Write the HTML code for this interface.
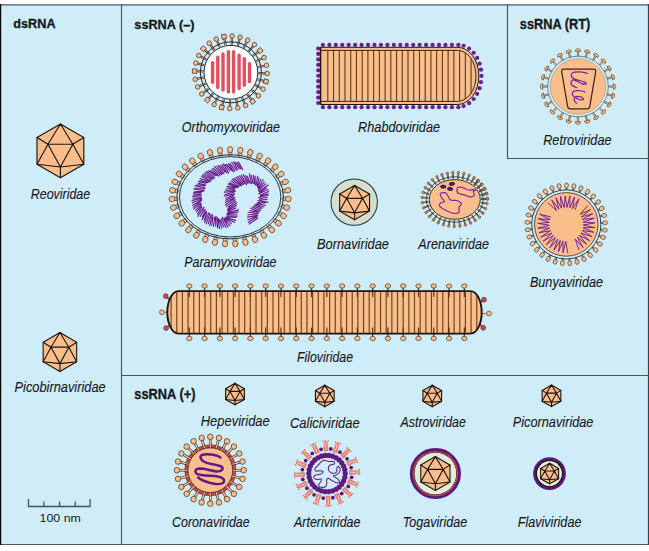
<!DOCTYPE html>
<html><head><meta charset="utf-8"><style>
html,body{margin:0;padding:0;background:#fff;}
svg{display:block;}
text{font-family:"Liberation Sans",sans-serif;fill:#15181b;stroke:#15181b;stroke-width:0.1px;}
</style></head><body>
<svg width="649" height="551" viewBox="0 0 649 551">
<rect x="0" y="4" width="649" height="541" fill="#cfecf9"/>
<rect x="0" y="4" width="649" height="1" fill="#7d8183"/>
<rect x="0" y="5" width="649" height="1" fill="#8aa3ae"/>
<rect x="0" y="544" width="649" height="1" fill="#4c5c66"/>
<rect x="0" y="4" width="1.2" height="541" fill="#000"/>
<rect x="647.9" y="4" width="1.1" height="541" fill="#36424a"/>
<path d="M121.5,4.5 V544.5 M121.5,375.5 H648.5 M507.5,4.5 V158.5 H648.5" fill="none" stroke="#46555e" stroke-width="1.15"/>
<path d="M60.4,124 L83.8,137.42 L83.8,164.28 L60.4,177.7 L37,164.28 L37,137.42 Z" fill="#fabe8c" stroke="#1c1410" stroke-width="1.15" stroke-linejoin="round"/><path d="M60.4,124 L47.95,144.24 M60.4,124 L72.85,144.24 M47.95,144.24 L72.85,144.24 M37,137.42 L47.95,144.24 M37,164.28 L47.95,144.24 M83.8,137.42 L72.85,144.24 M83.8,164.28 L72.85,144.24 M47.95,144.24 L60.4,166.96 M72.85,144.24 L60.4,166.96 M37,164.28 L60.4,166.96 M83.8,164.28 L60.4,166.96 M60.4,177.7 L60.4,166.96" fill="none" stroke="#1c1410" stroke-width="1.15" stroke-linecap="round"/>
<path d="M59.9,332.5 L76.65,342.22 L76.65,361.68 L59.9,371.4 L43.15,361.68 L43.15,342.22 Z" fill="#fabe8c" stroke="#1c1410" stroke-width="1.1" stroke-linejoin="round"/><path d="M59.9,332.5 L50.99,347.17 M59.9,332.5 L68.81,347.17 M50.99,347.17 L68.81,347.17 M43.15,342.22 L50.99,347.17 M43.15,361.68 L50.99,347.17 M76.65,342.22 L68.81,347.17 M76.65,361.68 L68.81,347.17 M50.99,347.17 L59.9,363.62 M68.81,347.17 L59.9,363.62 M43.15,361.68 L59.9,363.62 M76.65,361.68 L59.9,363.62 M59.9,371.4 L59.9,363.62" fill="none" stroke="#1c1410" stroke-width="1.1" stroke-linecap="round"/>
<line x1="231.76" y1="44.81" x2="231.97" y2="38.12" stroke="#3a2a20" stroke-width="2.1" stroke-linecap="butt"/><line x1="231.76" y1="44.81" x2="231.97" y2="38.12" stroke="#eaa070" stroke-width="1" stroke-linecap="butt"/><circle cx="232.04" cy="36.02" r="2.3" fill="#fabe8c" stroke="#3a2a20" stroke-width="0.7" /><line x1="237.86" y1="45.7" x2="239.56" y2="39.21" stroke="#3a2a20" stroke-width="2.1" stroke-linecap="butt"/><line x1="237.86" y1="45.7" x2="239.56" y2="39.21" stroke="#eaa070" stroke-width="1" stroke-linecap="butt"/><circle cx="240.09" cy="37.18" r="2.3" fill="#fabe8c" stroke="#3a2a20" stroke-width="0.7" /><line x1="243.61" y1="47.91" x2="246.7" y2="41.97" stroke="#3a2a20" stroke-width="2.1" stroke-linecap="butt"/><line x1="243.61" y1="47.91" x2="246.7" y2="41.97" stroke="#eaa070" stroke-width="1" stroke-linecap="butt"/><circle cx="247.67" cy="40.11" r="2.3" fill="#fabe8c" stroke="#3a2a20" stroke-width="0.7" /><line x1="248.72" y1="51.35" x2="253.06" y2="46.25" stroke="#3a2a20" stroke-width="2.1" stroke-linecap="butt"/><line x1="248.72" y1="51.35" x2="253.06" y2="46.25" stroke="#eaa070" stroke-width="1" stroke-linecap="butt"/><circle cx="254.42" cy="44.65" r="2.3" fill="#fabe8c" stroke="#3a2a20" stroke-width="0.7" /><line x1="252.93" y1="55.84" x2="258.3" y2="51.83" stroke="#3a2a20" stroke-width="2.1" stroke-linecap="butt"/><line x1="252.93" y1="55.84" x2="258.3" y2="51.83" stroke="#eaa070" stroke-width="1" stroke-linecap="butt"/><rect x="257.78" y="48.38" width="4.4" height="4.4" fill="#fabe8c" stroke="#3a2a20" stroke-width="0.7" transform="rotate(53.24 259.98 50.58)"/><line x1="256.04" y1="61.16" x2="262.17" y2="58.44" stroke="#3a2a20" stroke-width="2.1" stroke-linecap="butt"/><line x1="256.04" y1="61.16" x2="262.17" y2="58.44" stroke="#eaa070" stroke-width="1" stroke-linecap="butt"/><circle cx="264.09" cy="57.59" r="2.3" fill="#fabe8c" stroke="#3a2a20" stroke-width="0.7" /><line x1="257.89" y1="67.03" x2="264.47" y2="65.75" stroke="#3a2a20" stroke-width="2.1" stroke-linecap="butt"/><line x1="257.89" y1="67.03" x2="264.47" y2="65.75" stroke="#eaa070" stroke-width="1" stroke-linecap="butt"/><circle cx="266.53" cy="65.35" r="2.3" fill="#fabe8c" stroke="#3a2a20" stroke-width="0.7" /><line x1="258.39" y1="73.17" x2="265.08" y2="73.39" stroke="#3a2a20" stroke-width="2.1" stroke-linecap="butt"/><line x1="258.39" y1="73.17" x2="265.08" y2="73.39" stroke="#eaa070" stroke-width="1" stroke-linecap="butt"/><circle cx="267.18" cy="73.45" r="2.3" fill="#fabe8c" stroke="#3a2a20" stroke-width="0.7" /><line x1="257.5" y1="79.27" x2="263.98" y2="80.97" stroke="#3a2a20" stroke-width="2.1" stroke-linecap="butt"/><line x1="257.5" y1="79.27" x2="263.98" y2="80.97" stroke="#eaa070" stroke-width="1" stroke-linecap="butt"/><rect x="263.82" y="79.3" width="4.4" height="4.4" fill="#fabe8c" stroke="#3a2a20" stroke-width="0.7" transform="rotate(104.68 266.02 81.5)"/><line x1="255.28" y1="85.02" x2="261.22" y2="88.11" stroke="#3a2a20" stroke-width="2.1" stroke-linecap="butt"/><line x1="255.28" y1="85.02" x2="261.22" y2="88.11" stroke="#eaa070" stroke-width="1" stroke-linecap="butt"/><circle cx="263.09" cy="89.08" r="2.3" fill="#fabe8c" stroke="#3a2a20" stroke-width="0.7" /><line x1="251.84" y1="90.12" x2="256.94" y2="94.47" stroke="#3a2a20" stroke-width="2.1" stroke-linecap="butt"/><line x1="251.84" y1="90.12" x2="256.94" y2="94.47" stroke="#eaa070" stroke-width="1" stroke-linecap="butt"/><circle cx="258.54" cy="95.83" r="2.3" fill="#fabe8c" stroke="#3a2a20" stroke-width="0.7" /><line x1="247.35" y1="94.34" x2="251.36" y2="99.71" stroke="#3a2a20" stroke-width="2.1" stroke-linecap="butt"/><line x1="247.35" y1="94.34" x2="251.36" y2="99.71" stroke="#eaa070" stroke-width="1" stroke-linecap="butt"/><rect x="250.41" y="99.19" width="4.4" height="4.4" fill="#fabe8c" stroke="#3a2a20" stroke-width="0.7" transform="rotate(143.26 252.61 101.39)"/><line x1="242.03" y1="97.45" x2="244.74" y2="103.57" stroke="#3a2a20" stroke-width="2.1" stroke-linecap="butt"/><line x1="242.03" y1="97.45" x2="244.74" y2="103.57" stroke="#eaa070" stroke-width="1" stroke-linecap="butt"/><circle cx="245.6" cy="105.49" r="2.3" fill="#fabe8c" stroke="#3a2a20" stroke-width="0.7" /><line x1="236.16" y1="99.29" x2="237.44" y2="105.87" stroke="#3a2a20" stroke-width="2.1" stroke-linecap="butt"/><line x1="236.16" y1="99.29" x2="237.44" y2="105.87" stroke="#eaa070" stroke-width="1" stroke-linecap="butt"/><circle cx="237.84" cy="107.93" r="2.3" fill="#fabe8c" stroke="#3a2a20" stroke-width="0.7" /><line x1="230.02" y1="99.79" x2="229.8" y2="106.48" stroke="#3a2a20" stroke-width="2.1" stroke-linecap="butt"/><line x1="230.02" y1="99.79" x2="229.8" y2="106.48" stroke="#eaa070" stroke-width="1" stroke-linecap="butt"/><circle cx="229.73" cy="108.58" r="2.3" fill="#fabe8c" stroke="#3a2a20" stroke-width="0.7" /><line x1="223.92" y1="98.9" x2="222.22" y2="105.38" stroke="#3a2a20" stroke-width="2.1" stroke-linecap="butt"/><line x1="223.92" y1="98.9" x2="222.22" y2="105.38" stroke="#eaa070" stroke-width="1" stroke-linecap="butt"/><rect x="219.49" y="105.21" width="4.4" height="4.4" fill="#fabe8c" stroke="#3a2a20" stroke-width="0.7" transform="rotate(194.7 221.69 107.41)"/><line x1="218.18" y1="96.68" x2="215.08" y2="102.62" stroke="#3a2a20" stroke-width="2.1" stroke-linecap="butt"/><line x1="218.18" y1="96.68" x2="215.08" y2="102.62" stroke="#eaa070" stroke-width="1" stroke-linecap="butt"/><circle cx="214.1" cy="104.48" r="2.3" fill="#fabe8c" stroke="#3a2a20" stroke-width="0.7" /><line x1="213.07" y1="93.24" x2="208.73" y2="98.34" stroke="#3a2a20" stroke-width="2.1" stroke-linecap="butt"/><line x1="213.07" y1="93.24" x2="208.73" y2="98.34" stroke="#eaa070" stroke-width="1" stroke-linecap="butt"/><rect x="205.16" y="97.74" width="4.4" height="4.4" fill="#fabe8c" stroke="#3a2a20" stroke-width="0.7" transform="rotate(220.42 207.36 99.94)"/><line x1="208.86" y1="88.74" x2="203.49" y2="92.75" stroke="#3a2a20" stroke-width="2.1" stroke-linecap="butt"/><line x1="208.86" y1="88.74" x2="203.49" y2="92.75" stroke="#eaa070" stroke-width="1" stroke-linecap="butt"/><circle cx="201.8" cy="94" r="2.3" fill="#fabe8c" stroke="#3a2a20" stroke-width="0.7" /><line x1="205.75" y1="83.42" x2="199.62" y2="86.13" stroke="#3a2a20" stroke-width="2.1" stroke-linecap="butt"/><line x1="205.75" y1="83.42" x2="199.62" y2="86.13" stroke="#eaa070" stroke-width="1" stroke-linecap="butt"/><circle cx="197.7" cy="86.98" r="2.3" fill="#fabe8c" stroke="#3a2a20" stroke-width="0.7" /><line x1="203.91" y1="77.55" x2="197.33" y2="78.83" stroke="#3a2a20" stroke-width="2.1" stroke-linecap="butt"/><line x1="203.91" y1="77.55" x2="197.33" y2="78.83" stroke="#eaa070" stroke-width="1" stroke-linecap="butt"/><circle cx="195.27" cy="79.23" r="2.3" fill="#fabe8c" stroke="#3a2a20" stroke-width="0.7" /><line x1="203.41" y1="71.41" x2="196.72" y2="71.19" stroke="#3a2a20" stroke-width="2.1" stroke-linecap="butt"/><line x1="203.41" y1="71.41" x2="196.72" y2="71.19" stroke="#eaa070" stroke-width="1" stroke-linecap="butt"/><rect x="192.42" y="68.92" width="4.4" height="4.4" fill="#fabe8c" stroke="#3a2a20" stroke-width="0.7" transform="rotate(271.86 194.62 71.12)"/><line x1="204.3" y1="65.31" x2="197.82" y2="63.61" stroke="#3a2a20" stroke-width="2.1" stroke-linecap="butt"/><line x1="204.3" y1="65.31" x2="197.82" y2="63.61" stroke="#eaa070" stroke-width="1" stroke-linecap="butt"/><circle cx="195.79" cy="63.08" r="2.3" fill="#fabe8c" stroke="#3a2a20" stroke-width="0.7" /><line x1="206.52" y1="59.57" x2="200.59" y2="56.47" stroke="#3a2a20" stroke-width="2.1" stroke-linecap="butt"/><line x1="206.52" y1="59.57" x2="200.59" y2="56.47" stroke="#eaa070" stroke-width="1" stroke-linecap="butt"/><circle cx="198.72" cy="55.49" r="2.3" fill="#fabe8c" stroke="#3a2a20" stroke-width="0.7" /><line x1="209.97" y1="54.46" x2="204.87" y2="50.12" stroke="#3a2a20" stroke-width="2.1" stroke-linecap="butt"/><line x1="209.97" y1="54.46" x2="204.87" y2="50.12" stroke="#eaa070" stroke-width="1" stroke-linecap="butt"/><rect x="201.07" y="46.55" width="4.4" height="4.4" fill="#fabe8c" stroke="#3a2a20" stroke-width="0.7" transform="rotate(310.44 203.27 48.75)"/><line x1="214.47" y1="50.25" x2="210.46" y2="44.88" stroke="#3a2a20" stroke-width="2.1" stroke-linecap="butt"/><line x1="214.47" y1="50.25" x2="210.46" y2="44.88" stroke="#eaa070" stroke-width="1" stroke-linecap="butt"/><circle cx="209.21" cy="43.2" r="2.3" fill="#fabe8c" stroke="#3a2a20" stroke-width="0.7" /><line x1="219.78" y1="47.15" x2="217.08" y2="41.02" stroke="#3a2a20" stroke-width="2.1" stroke-linecap="butt"/><line x1="219.78" y1="47.15" x2="217.08" y2="41.02" stroke="#eaa070" stroke-width="1" stroke-linecap="butt"/><circle cx="216.23" cy="39.1" r="2.3" fill="#fabe8c" stroke="#3a2a20" stroke-width="0.7" /><line x1="225.66" y1="45.3" x2="224.39" y2="38.73" stroke="#3a2a20" stroke-width="2.1" stroke-linecap="butt"/><line x1="225.66" y1="45.3" x2="224.39" y2="38.73" stroke="#eaa070" stroke-width="1" stroke-linecap="butt"/><rect x="221.79" y="34.46" width="4.4" height="4.4" fill="#fabe8c" stroke="#3a2a20" stroke-width="0.7" transform="rotate(349.02 223.99 36.66)"/><circle cx="230.9" cy="72.3" r="30.5" fill="none" stroke="#1f2d33" stroke-width="1" /><circle cx="230.9" cy="72.3" r="26.9" fill="#ffffff" stroke="#1f2d33" stroke-width="1" /><line x1="212.6" y1="62.6" x2="212.6" y2="82.2" stroke="#e0505f" stroke-width="3.4" stroke-linecap="round"/><line x1="217.8" y1="57.1" x2="217.8" y2="87.4" stroke="#e0505f" stroke-width="3.4" stroke-linecap="round"/><line x1="223" y1="53.9" x2="223" y2="90.1" stroke="#e0505f" stroke-width="3.4" stroke-linecap="round"/><line x1="228.4" y1="51.6" x2="228.4" y2="91.9" stroke="#e0505f" stroke-width="3.4" stroke-linecap="round"/><line x1="233.6" y1="51.6" x2="233.6" y2="91.9" stroke="#e0505f" stroke-width="3.4" stroke-linecap="round"/><line x1="239.1" y1="55.2" x2="239.1" y2="88.6" stroke="#e0505f" stroke-width="3.4" stroke-linecap="round"/><line x1="244.3" y1="58.6" x2="244.3" y2="85.2" stroke="#e0505f" stroke-width="3.4" stroke-linecap="round"/><line x1="249.5" y1="63.8" x2="249.5" y2="81.5" stroke="#e0505f" stroke-width="3.4" stroke-linecap="round"/>
<circle cx="322.9" cy="44.9" r="2.1" fill="#741a91" stroke="none" stroke-width="1" /><circle cx="322.9" cy="107.2" r="2.1" fill="#741a91" stroke="none" stroke-width="1" /><circle cx="329.35" cy="44.9" r="2.1" fill="#741a91" stroke="none" stroke-width="1" /><circle cx="329.35" cy="107.2" r="2.1" fill="#741a91" stroke="none" stroke-width="1" /><circle cx="335.8" cy="44.9" r="2.1" fill="#741a91" stroke="none" stroke-width="1" /><circle cx="335.8" cy="107.2" r="2.1" fill="#741a91" stroke="none" stroke-width="1" /><circle cx="342.25" cy="44.9" r="2.1" fill="#741a91" stroke="none" stroke-width="1" /><circle cx="342.25" cy="107.2" r="2.1" fill="#741a91" stroke="none" stroke-width="1" /><circle cx="348.7" cy="44.9" r="2.1" fill="#741a91" stroke="none" stroke-width="1" /><circle cx="348.7" cy="107.2" r="2.1" fill="#741a91" stroke="none" stroke-width="1" /><circle cx="355.15" cy="44.9" r="2.1" fill="#741a91" stroke="none" stroke-width="1" /><circle cx="355.15" cy="107.2" r="2.1" fill="#741a91" stroke="none" stroke-width="1" /><circle cx="361.6" cy="44.9" r="2.1" fill="#741a91" stroke="none" stroke-width="1" /><circle cx="361.6" cy="107.2" r="2.1" fill="#741a91" stroke="none" stroke-width="1" /><circle cx="368.05" cy="44.9" r="2.1" fill="#741a91" stroke="none" stroke-width="1" /><circle cx="368.05" cy="107.2" r="2.1" fill="#741a91" stroke="none" stroke-width="1" /><circle cx="374.5" cy="44.9" r="2.1" fill="#741a91" stroke="none" stroke-width="1" /><circle cx="374.5" cy="107.2" r="2.1" fill="#741a91" stroke="none" stroke-width="1" /><circle cx="380.95" cy="44.9" r="2.1" fill="#741a91" stroke="none" stroke-width="1" /><circle cx="380.95" cy="107.2" r="2.1" fill="#741a91" stroke="none" stroke-width="1" /><circle cx="387.4" cy="44.9" r="2.1" fill="#741a91" stroke="none" stroke-width="1" /><circle cx="387.4" cy="107.2" r="2.1" fill="#741a91" stroke="none" stroke-width="1" /><circle cx="393.85" cy="44.9" r="2.1" fill="#741a91" stroke="none" stroke-width="1" /><circle cx="393.85" cy="107.2" r="2.1" fill="#741a91" stroke="none" stroke-width="1" /><circle cx="400.3" cy="44.9" r="2.1" fill="#741a91" stroke="none" stroke-width="1" /><circle cx="400.3" cy="107.2" r="2.1" fill="#741a91" stroke="none" stroke-width="1" /><circle cx="406.75" cy="44.9" r="2.1" fill="#741a91" stroke="none" stroke-width="1" /><circle cx="406.75" cy="107.2" r="2.1" fill="#741a91" stroke="none" stroke-width="1" /><circle cx="413.2" cy="44.9" r="2.1" fill="#741a91" stroke="none" stroke-width="1" /><circle cx="413.2" cy="107.2" r="2.1" fill="#741a91" stroke="none" stroke-width="1" /><circle cx="419.65" cy="44.9" r="2.1" fill="#741a91" stroke="none" stroke-width="1" /><circle cx="419.65" cy="107.2" r="2.1" fill="#741a91" stroke="none" stroke-width="1" /><circle cx="426.1" cy="44.9" r="2.1" fill="#741a91" stroke="none" stroke-width="1" /><circle cx="426.1" cy="107.2" r="2.1" fill="#741a91" stroke="none" stroke-width="1" /><circle cx="432.55" cy="44.9" r="2.1" fill="#741a91" stroke="none" stroke-width="1" /><circle cx="432.55" cy="107.2" r="2.1" fill="#741a91" stroke="none" stroke-width="1" /><circle cx="439" cy="44.9" r="2.1" fill="#741a91" stroke="none" stroke-width="1" /><circle cx="439" cy="107.2" r="2.1" fill="#741a91" stroke="none" stroke-width="1" /><circle cx="445.45" cy="44.9" r="2.1" fill="#741a91" stroke="none" stroke-width="1" /><circle cx="445.45" cy="107.2" r="2.1" fill="#741a91" stroke="none" stroke-width="1" /><circle cx="451.9" cy="44.9" r="2.1" fill="#741a91" stroke="none" stroke-width="1" /><circle cx="451.9" cy="107.2" r="2.1" fill="#741a91" stroke="none" stroke-width="1" /><circle cx="458.35" cy="44.9" r="2.1" fill="#741a91" stroke="none" stroke-width="1" /><circle cx="458.35" cy="107.2" r="2.1" fill="#741a91" stroke="none" stroke-width="1" /><circle cx="318.2" cy="48.5" r="2.1" fill="#741a91" stroke="none" stroke-width="1" /><circle cx="318.2" cy="53.95" r="2.1" fill="#741a91" stroke="none" stroke-width="1" /><circle cx="318.2" cy="59.4" r="2.1" fill="#741a91" stroke="none" stroke-width="1" /><circle cx="318.2" cy="64.85" r="2.1" fill="#741a91" stroke="none" stroke-width="1" /><circle cx="318.2" cy="70.3" r="2.1" fill="#741a91" stroke="none" stroke-width="1" /><circle cx="318.2" cy="75.75" r="2.1" fill="#741a91" stroke="none" stroke-width="1" /><circle cx="318.2" cy="81.2" r="2.1" fill="#741a91" stroke="none" stroke-width="1" /><circle cx="318.2" cy="86.65" r="2.1" fill="#741a91" stroke="none" stroke-width="1" /><circle cx="318.2" cy="92.1" r="2.1" fill="#741a91" stroke="none" stroke-width="1" /><circle cx="318.2" cy="97.55" r="2.1" fill="#741a91" stroke="none" stroke-width="1" /><circle cx="318.2" cy="103" r="2.1" fill="#741a91" stroke="none" stroke-width="1" /><circle cx="481.5" cy="75.9" r="2.1" fill="#741a91" stroke="none" stroke-width="1" /><circle cx="481.02" cy="82.1" r="2.1" fill="#741a91" stroke="none" stroke-width="1" /><circle cx="479.58" cy="88.14" r="2.1" fill="#741a91" stroke="none" stroke-width="1" /><circle cx="477.13" cy="93.85" r="2.1" fill="#741a91" stroke="none" stroke-width="1" /><circle cx="473.64" cy="98.99" r="2.1" fill="#741a91" stroke="none" stroke-width="1" /><circle cx="469.1" cy="103.21" r="2.1" fill="#741a91" stroke="none" stroke-width="1" /><circle cx="463.61" cy="106.07" r="2.1" fill="#741a91" stroke="none" stroke-width="1" /><circle cx="463.61" cy="45.73" r="2.1" fill="#741a91" stroke="none" stroke-width="1" /><circle cx="469.1" cy="48.59" r="2.1" fill="#741a91" stroke="none" stroke-width="1" /><circle cx="473.64" cy="52.81" r="2.1" fill="#741a91" stroke="none" stroke-width="1" /><circle cx="477.13" cy="57.95" r="2.1" fill="#741a91" stroke="none" stroke-width="1" /><circle cx="479.58" cy="63.66" r="2.1" fill="#741a91" stroke="none" stroke-width="1" /><circle cx="481.02" cy="69.7" r="2.1" fill="#741a91" stroke="none" stroke-width="1" /><path d="M320.5,47.3 H457.5 A21.4,28.6 0 0 1 457.5,104.5 H320.5 Z" fill="#fabe8c" stroke="#1c1410" stroke-width="1.0"/><clipPath id="rhc"><path d="M320.5,50.4 H457.5 A18.5,25.5 0 0 1 457.5,101.4 H320.5 Z"/></clipPath><path d="M320.5,50.4 H457.5 A18.5,25.5 0 0 1 457.5,101.4 H320.5 Z" fill="#fabe8c" stroke="#1c1410" stroke-width="0.9"/><path d="M327.8,50.4 V101.4 M333.53,50.4 V101.4 M339.26,50.4 V101.4 M344.99,50.4 V101.4 M350.72,50.4 V101.4 M356.45,50.4 V101.4 M362.18,50.4 V101.4 M367.91,50.4 V101.4 M373.64,50.4 V101.4 M379.37,50.4 V101.4 M385.1,50.4 V101.4 M390.83,50.4 V101.4 M396.56,50.4 V101.4 M402.29,50.4 V101.4 M408.02,50.4 V101.4 M413.75,50.4 V101.4 M419.48,50.4 V101.4 M425.21,50.4 V101.4 M430.94,50.4 V101.4 M436.67,50.4 V101.4 M442.4,50.4 V101.4 M448.13,50.4 V101.4 M453.86,50.4 V101.4 M459.59,50.4 V101.4 M465.32,50.4 V101.4 M471.05,50.4 V101.4 " stroke="#5e3818" stroke-width="1.1" clip-path="url(#rhc)"/><path d="M320.5,47.3 V104.5" stroke="#1c1410" stroke-width="1.6"/>
<g transform="translate(578 86.5) rotate(0) translate(0 -30.4)"><path d="M-0.7,0 V-5.0 H0.7 V0 Z" fill="#fabe8c" stroke="#5a3a20" stroke-width="0.55"/><path d="M-2.8,-4.7 Q-3.0,-7.3 0,-7.45 Q3.0,-7.3 2.8,-4.7 Q0,-5.3 -2.8,-4.7 Z" fill="#fabe8c" stroke="#5a3a20" stroke-width="0.6"/></g><g transform="translate(578 86.5) rotate(15) translate(0 -30.4)"><path d="M-0.7,0 V-5.0 H0.7 V0 Z" fill="#fabe8c" stroke="#5a3a20" stroke-width="0.55"/><path d="M-2.8,-4.7 Q-3.0,-7.3 0,-7.45 Q3.0,-7.3 2.8,-4.7 Q0,-5.3 -2.8,-4.7 Z" fill="#fabe8c" stroke="#5a3a20" stroke-width="0.6"/></g><g transform="translate(578 86.5) rotate(30) translate(0 -30.4)"><path d="M-0.7,0 V-5.0 H0.7 V0 Z" fill="#fabe8c" stroke="#5a3a20" stroke-width="0.55"/><path d="M-2.8,-4.7 Q-3.0,-7.3 0,-7.45 Q3.0,-7.3 2.8,-4.7 Q0,-5.3 -2.8,-4.7 Z" fill="#fabe8c" stroke="#5a3a20" stroke-width="0.6"/></g><g transform="translate(578 86.5) rotate(45) translate(0 -30.4)"><path d="M-0.7,0 V-5.0 H0.7 V0 Z" fill="#fabe8c" stroke="#5a3a20" stroke-width="0.55"/><path d="M-2.8,-4.7 Q-3.0,-7.3 0,-7.45 Q3.0,-7.3 2.8,-4.7 Q0,-5.3 -2.8,-4.7 Z" fill="#fabe8c" stroke="#5a3a20" stroke-width="0.6"/></g><g transform="translate(578 86.5) rotate(60) translate(0 -30.4)"><path d="M-0.7,0 V-5.0 H0.7 V0 Z" fill="#fabe8c" stroke="#5a3a20" stroke-width="0.55"/><path d="M-2.8,-4.7 Q-3.0,-7.3 0,-7.45 Q3.0,-7.3 2.8,-4.7 Q0,-5.3 -2.8,-4.7 Z" fill="#fabe8c" stroke="#5a3a20" stroke-width="0.6"/></g><g transform="translate(578 86.5) rotate(75) translate(0 -30.4)"><path d="M-0.7,0 V-5.0 H0.7 V0 Z" fill="#fabe8c" stroke="#5a3a20" stroke-width="0.55"/><path d="M-2.8,-4.7 Q-3.0,-7.3 0,-7.45 Q3.0,-7.3 2.8,-4.7 Q0,-5.3 -2.8,-4.7 Z" fill="#fabe8c" stroke="#5a3a20" stroke-width="0.6"/></g><g transform="translate(578 86.5) rotate(90) translate(0 -30.4)"><path d="M-0.7,0 V-5.0 H0.7 V0 Z" fill="#fabe8c" stroke="#5a3a20" stroke-width="0.55"/><path d="M-2.8,-4.7 Q-3.0,-7.3 0,-7.45 Q3.0,-7.3 2.8,-4.7 Q0,-5.3 -2.8,-4.7 Z" fill="#fabe8c" stroke="#5a3a20" stroke-width="0.6"/></g><g transform="translate(578 86.5) rotate(105) translate(0 -30.4)"><path d="M-0.7,0 V-5.0 H0.7 V0 Z" fill="#fabe8c" stroke="#5a3a20" stroke-width="0.55"/><path d="M-2.8,-4.7 Q-3.0,-7.3 0,-7.45 Q3.0,-7.3 2.8,-4.7 Q0,-5.3 -2.8,-4.7 Z" fill="#fabe8c" stroke="#5a3a20" stroke-width="0.6"/></g><g transform="translate(578 86.5) rotate(120) translate(0 -30.4)"><path d="M-0.7,0 V-5.0 H0.7 V0 Z" fill="#fabe8c" stroke="#5a3a20" stroke-width="0.55"/><path d="M-2.8,-4.7 Q-3.0,-7.3 0,-7.45 Q3.0,-7.3 2.8,-4.7 Q0,-5.3 -2.8,-4.7 Z" fill="#fabe8c" stroke="#5a3a20" stroke-width="0.6"/></g><g transform="translate(578 86.5) rotate(135) translate(0 -30.4)"><path d="M-0.7,0 V-5.0 H0.7 V0 Z" fill="#fabe8c" stroke="#5a3a20" stroke-width="0.55"/><path d="M-2.8,-4.7 Q-3.0,-7.3 0,-7.45 Q3.0,-7.3 2.8,-4.7 Q0,-5.3 -2.8,-4.7 Z" fill="#fabe8c" stroke="#5a3a20" stroke-width="0.6"/></g><g transform="translate(578 86.5) rotate(150) translate(0 -30.4)"><path d="M-0.7,0 V-5.0 H0.7 V0 Z" fill="#fabe8c" stroke="#5a3a20" stroke-width="0.55"/><path d="M-2.8,-4.7 Q-3.0,-7.3 0,-7.45 Q3.0,-7.3 2.8,-4.7 Q0,-5.3 -2.8,-4.7 Z" fill="#fabe8c" stroke="#5a3a20" stroke-width="0.6"/></g><g transform="translate(578 86.5) rotate(165) translate(0 -30.4)"><path d="M-0.7,0 V-5.0 H0.7 V0 Z" fill="#fabe8c" stroke="#5a3a20" stroke-width="0.55"/><path d="M-2.8,-4.7 Q-3.0,-7.3 0,-7.45 Q3.0,-7.3 2.8,-4.7 Q0,-5.3 -2.8,-4.7 Z" fill="#fabe8c" stroke="#5a3a20" stroke-width="0.6"/></g><g transform="translate(578 86.5) rotate(180) translate(0 -30.4)"><path d="M-0.7,0 V-5.0 H0.7 V0 Z" fill="#fabe8c" stroke="#5a3a20" stroke-width="0.55"/><path d="M-2.8,-4.7 Q-3.0,-7.3 0,-7.45 Q3.0,-7.3 2.8,-4.7 Q0,-5.3 -2.8,-4.7 Z" fill="#fabe8c" stroke="#5a3a20" stroke-width="0.6"/></g><g transform="translate(578 86.5) rotate(195) translate(0 -30.4)"><path d="M-0.7,0 V-5.0 H0.7 V0 Z" fill="#fabe8c" stroke="#5a3a20" stroke-width="0.55"/><path d="M-2.8,-4.7 Q-3.0,-7.3 0,-7.45 Q3.0,-7.3 2.8,-4.7 Q0,-5.3 -2.8,-4.7 Z" fill="#fabe8c" stroke="#5a3a20" stroke-width="0.6"/></g><g transform="translate(578 86.5) rotate(210) translate(0 -30.4)"><path d="M-0.7,0 V-5.0 H0.7 V0 Z" fill="#fabe8c" stroke="#5a3a20" stroke-width="0.55"/><path d="M-2.8,-4.7 Q-3.0,-7.3 0,-7.45 Q3.0,-7.3 2.8,-4.7 Q0,-5.3 -2.8,-4.7 Z" fill="#fabe8c" stroke="#5a3a20" stroke-width="0.6"/></g><g transform="translate(578 86.5) rotate(225) translate(0 -30.4)"><path d="M-0.7,0 V-5.0 H0.7 V0 Z" fill="#fabe8c" stroke="#5a3a20" stroke-width="0.55"/><path d="M-2.8,-4.7 Q-3.0,-7.3 0,-7.45 Q3.0,-7.3 2.8,-4.7 Q0,-5.3 -2.8,-4.7 Z" fill="#fabe8c" stroke="#5a3a20" stroke-width="0.6"/></g><g transform="translate(578 86.5) rotate(240) translate(0 -30.4)"><path d="M-0.7,0 V-5.0 H0.7 V0 Z" fill="#fabe8c" stroke="#5a3a20" stroke-width="0.55"/><path d="M-2.8,-4.7 Q-3.0,-7.3 0,-7.45 Q3.0,-7.3 2.8,-4.7 Q0,-5.3 -2.8,-4.7 Z" fill="#fabe8c" stroke="#5a3a20" stroke-width="0.6"/></g><g transform="translate(578 86.5) rotate(255) translate(0 -30.4)"><path d="M-0.7,0 V-5.0 H0.7 V0 Z" fill="#fabe8c" stroke="#5a3a20" stroke-width="0.55"/><path d="M-2.8,-4.7 Q-3.0,-7.3 0,-7.45 Q3.0,-7.3 2.8,-4.7 Q0,-5.3 -2.8,-4.7 Z" fill="#fabe8c" stroke="#5a3a20" stroke-width="0.6"/></g><g transform="translate(578 86.5) rotate(270) translate(0 -30.4)"><path d="M-0.7,0 V-5.0 H0.7 V0 Z" fill="#fabe8c" stroke="#5a3a20" stroke-width="0.55"/><path d="M-2.8,-4.7 Q-3.0,-7.3 0,-7.45 Q3.0,-7.3 2.8,-4.7 Q0,-5.3 -2.8,-4.7 Z" fill="#fabe8c" stroke="#5a3a20" stroke-width="0.6"/></g><g transform="translate(578 86.5) rotate(285) translate(0 -30.4)"><path d="M-0.7,0 V-5.0 H0.7 V0 Z" fill="#fabe8c" stroke="#5a3a20" stroke-width="0.55"/><path d="M-2.8,-4.7 Q-3.0,-7.3 0,-7.45 Q3.0,-7.3 2.8,-4.7 Q0,-5.3 -2.8,-4.7 Z" fill="#fabe8c" stroke="#5a3a20" stroke-width="0.6"/></g><g transform="translate(578 86.5) rotate(300) translate(0 -30.4)"><path d="M-0.7,0 V-5.0 H0.7 V0 Z" fill="#fabe8c" stroke="#5a3a20" stroke-width="0.55"/><path d="M-2.8,-4.7 Q-3.0,-7.3 0,-7.45 Q3.0,-7.3 2.8,-4.7 Q0,-5.3 -2.8,-4.7 Z" fill="#fabe8c" stroke="#5a3a20" stroke-width="0.6"/></g><g transform="translate(578 86.5) rotate(315) translate(0 -30.4)"><path d="M-0.7,0 V-5.0 H0.7 V0 Z" fill="#fabe8c" stroke="#5a3a20" stroke-width="0.55"/><path d="M-2.8,-4.7 Q-3.0,-7.3 0,-7.45 Q3.0,-7.3 2.8,-4.7 Q0,-5.3 -2.8,-4.7 Z" fill="#fabe8c" stroke="#5a3a20" stroke-width="0.6"/></g><g transform="translate(578 86.5) rotate(330) translate(0 -30.4)"><path d="M-0.7,0 V-5.0 H0.7 V0 Z" fill="#fabe8c" stroke="#5a3a20" stroke-width="0.55"/><path d="M-2.8,-4.7 Q-3.0,-7.3 0,-7.45 Q3.0,-7.3 2.8,-4.7 Q0,-5.3 -2.8,-4.7 Z" fill="#fabe8c" stroke="#5a3a20" stroke-width="0.6"/></g><g transform="translate(578 86.5) rotate(345) translate(0 -30.4)"><path d="M-0.7,0 V-5.0 H0.7 V0 Z" fill="#fabe8c" stroke="#5a3a20" stroke-width="0.55"/><path d="M-2.8,-4.7 Q-3.0,-7.3 0,-7.45 Q3.0,-7.3 2.8,-4.7 Q0,-5.3 -2.8,-4.7 Z" fill="#fabe8c" stroke="#5a3a20" stroke-width="0.6"/></g><circle cx="578" cy="86.5" r="30.3" fill="none" stroke="#5f7f8e" stroke-width="0.9" /><circle cx="578" cy="86.5" r="27.8" fill="#fabe8c" stroke="#a08060" stroke-width="0.5" /><path d="M562.6,69.2 H593.8 Q596.2,69.2 595.7,71.6 L589.8,106.4 Q589.4,108.9 587,108.9 H570.4 Q568,108.9 567.6,106.4 L561.7,71.6 Q561.2,69.2 563.6,69.2 Z" fill="#fabe8c" stroke="#3a2214" stroke-width="1.2"/><path d="M587.3,73.4 C583,71.6 575.5,71.2 572.6,72.8 C570.2,74.6 571.2,77.6 574,78.8 C577.5,80.4 583,81.2 585.6,82.6 C587.6,84.2 585.2,84.8 582.4,83.8 C579,82.8 575.2,79.6 572.8,79.9 C570.2,80.6 570.6,84.4 572.4,85.6 C574,86.8 575.8,87.2 576.8,87.6 M584.8,91.9 C581.5,90.6 576,90.2 573.6,91.4 C571.4,92.8 572.2,95.4 574,96.8 C576.4,98.6 580.4,100.2 582.6,99.9 C584.4,99.4 583.4,97.6 580.8,96.8 C578,96 575.2,96.6 574.4,98.2 C573.6,100 575.4,102.2 576.8,103.2" fill="none" stroke="#72289a" stroke-width="1.25" stroke-linecap="round"/>
<ellipse cx="230.15" cy="153.6" rx="1.95" ry="1.95" fill="#fabe8c" stroke="#3a2a20" stroke-width="0.6" /><ellipse cx="230.15" cy="149.6" rx="3.05" ry="2.7" fill="#fabe8c" stroke="#3a2a20" stroke-width="0.65" transform="rotate(-90 230.15 149.6)"/><ellipse cx="239.79" cy="154.29" rx="1.95" ry="1.95" fill="#fabe8c" stroke="#3a2a20" stroke-width="0.6" /><ellipse cx="240.36" cy="150.33" rx="3.05" ry="2.7" fill="#fabe8c" stroke="#3a2a20" stroke-width="0.65" transform="rotate(-81.81 240.36 150.33)"/><ellipse cx="249.13" cy="156.33" rx="1.95" ry="1.95" fill="#fabe8c" stroke="#3a2a20" stroke-width="0.6" /><ellipse cx="250.27" cy="152.5" rx="3.05" ry="2.7" fill="#fabe8c" stroke="#3a2a20" stroke-width="0.65" transform="rotate(-73.42 250.27 152.5)"/><ellipse cx="257.86" cy="159.67" rx="1.95" ry="1.95" fill="#fabe8c" stroke="#3a2a20" stroke-width="0.6" /><ellipse cx="259.58" cy="156.06" rx="3.05" ry="2.7" fill="#fabe8c" stroke="#3a2a20" stroke-width="0.65" transform="rotate(-64.64 259.58 156.06)"/><ellipse cx="265.72" cy="164.2" rx="1.95" ry="1.95" fill="#fabe8c" stroke="#3a2a20" stroke-width="0.6" /><ellipse cx="268" cy="160.91" rx="3.05" ry="2.7" fill="#fabe8c" stroke="#3a2a20" stroke-width="0.65" transform="rotate(-55.28 268 160.91)"/><ellipse cx="272.45" cy="169.78" rx="1.95" ry="1.95" fill="#fabe8c" stroke="#3a2a20" stroke-width="0.6" /><ellipse cx="275.27" cy="166.94" rx="3.05" ry="2.7" fill="#fabe8c" stroke="#3a2a20" stroke-width="0.65" transform="rotate(-45.15 275.27 166.94)"/><ellipse cx="277.83" cy="176.24" rx="1.95" ry="1.95" fill="#fabe8c" stroke="#3a2a20" stroke-width="0.6" /><ellipse cx="281.14" cy="174" rx="3.05" ry="2.7" fill="#fabe8c" stroke="#3a2a20" stroke-width="0.65" transform="rotate(-34.15 281.14 174)"/><ellipse cx="281.67" cy="183.38" rx="1.95" ry="1.95" fill="#fabe8c" stroke="#3a2a20" stroke-width="0.6" /><ellipse cx="285.37" cy="181.86" rx="3.05" ry="2.7" fill="#fabe8c" stroke="#3a2a20" stroke-width="0.65" transform="rotate(-22.27 285.37 181.86)"/><ellipse cx="283.85" cy="190.97" rx="1.95" ry="1.95" fill="#fabe8c" stroke="#3a2a20" stroke-width="0.6" /><ellipse cx="287.8" cy="190.29" rx="3.05" ry="2.7" fill="#fabe8c" stroke="#3a2a20" stroke-width="0.65" transform="rotate(-9.69 287.8 190.29)"/><ellipse cx="284.29" cy="198.75" rx="1.95" ry="1.95" fill="#fabe8c" stroke="#3a2a20" stroke-width="0.6" /><ellipse cx="288.29" cy="198.98" rx="3.05" ry="2.7" fill="#fabe8c" stroke="#3a2a20" stroke-width="0.65" transform="rotate(3.24 288.29 198.98)"/><ellipse cx="282.98" cy="206.47" rx="1.95" ry="1.95" fill="#fabe8c" stroke="#3a2a20" stroke-width="0.6" /><ellipse cx="286.82" cy="207.57" rx="3.05" ry="2.7" fill="#fabe8c" stroke="#3a2a20" stroke-width="0.65" transform="rotate(16.05 286.82 207.57)"/><ellipse cx="279.95" cy="213.86" rx="1.95" ry="1.95" fill="#fabe8c" stroke="#3a2a20" stroke-width="0.6" /><ellipse cx="283.47" cy="215.76" rx="3.05" ry="2.7" fill="#fabe8c" stroke="#3a2a20" stroke-width="0.65" transform="rotate(28.32 283.47 215.76)"/><ellipse cx="275.32" cy="220.69" rx="1.95" ry="1.95" fill="#fabe8c" stroke="#3a2a20" stroke-width="0.6" /><ellipse cx="278.39" cy="223.25" rx="3.05" ry="2.7" fill="#fabe8c" stroke="#3a2a20" stroke-width="0.65" transform="rotate(39.77 278.39 223.25)"/><ellipse cx="269.24" cy="226.73" rx="1.95" ry="1.95" fill="#fabe8c" stroke="#3a2a20" stroke-width="0.6" /><ellipse cx="271.8" cy="229.81" rx="3.05" ry="2.7" fill="#fabe8c" stroke="#3a2a20" stroke-width="0.65" transform="rotate(50.32 271.8 229.81)"/><ellipse cx="261.92" cy="231.81" rx="1.95" ry="1.95" fill="#fabe8c" stroke="#3a2a20" stroke-width="0.6" /><ellipse cx="263.92" cy="235.27" rx="3.05" ry="2.7" fill="#fabe8c" stroke="#3a2a20" stroke-width="0.65" transform="rotate(60.04 263.92 235.27)"/><ellipse cx="253.59" cy="235.76" rx="1.95" ry="1.95" fill="#fabe8c" stroke="#3a2a20" stroke-width="0.6" /><ellipse cx="255.02" cy="239.49" rx="3.05" ry="2.7" fill="#fabe8c" stroke="#3a2a20" stroke-width="0.65" transform="rotate(69.09 255.02 239.49)"/><ellipse cx="244.52" cy="238.46" rx="1.95" ry="1.95" fill="#fabe8c" stroke="#3a2a20" stroke-width="0.6" /><ellipse cx="245.37" cy="242.36" rx="3.05" ry="2.7" fill="#fabe8c" stroke="#3a2a20" stroke-width="0.65" transform="rotate(77.65 245.37 242.36)"/><ellipse cx="234.99" cy="239.83" rx="1.95" ry="1.95" fill="#fabe8c" stroke="#3a2a20" stroke-width="0.6" /><ellipse cx="235.27" cy="243.82" rx="3.05" ry="2.7" fill="#fabe8c" stroke="#3a2a20" stroke-width="0.65" transform="rotate(85.92 235.27 243.82)"/><ellipse cx="225.31" cy="239.83" rx="1.95" ry="1.95" fill="#fabe8c" stroke="#3a2a20" stroke-width="0.6" /><ellipse cx="225.03" cy="243.82" rx="3.05" ry="2.7" fill="#fabe8c" stroke="#3a2a20" stroke-width="0.65" transform="rotate(94.08 225.03 243.82)"/><ellipse cx="215.78" cy="238.46" rx="1.95" ry="1.95" fill="#fabe8c" stroke="#3a2a20" stroke-width="0.6" /><ellipse cx="214.93" cy="242.36" rx="3.05" ry="2.7" fill="#fabe8c" stroke="#3a2a20" stroke-width="0.65" transform="rotate(102.35 214.93 242.36)"/><ellipse cx="206.71" cy="235.76" rx="1.95" ry="1.95" fill="#fabe8c" stroke="#3a2a20" stroke-width="0.6" /><ellipse cx="205.28" cy="239.49" rx="3.05" ry="2.7" fill="#fabe8c" stroke="#3a2a20" stroke-width="0.65" transform="rotate(110.91 205.28 239.49)"/><ellipse cx="198.38" cy="231.81" rx="1.95" ry="1.95" fill="#fabe8c" stroke="#3a2a20" stroke-width="0.6" /><ellipse cx="196.38" cy="235.27" rx="3.05" ry="2.7" fill="#fabe8c" stroke="#3a2a20" stroke-width="0.65" transform="rotate(119.96 196.38 235.27)"/><ellipse cx="191.06" cy="226.73" rx="1.95" ry="1.95" fill="#fabe8c" stroke="#3a2a20" stroke-width="0.6" /><ellipse cx="188.5" cy="229.81" rx="3.05" ry="2.7" fill="#fabe8c" stroke="#3a2a20" stroke-width="0.65" transform="rotate(129.68 188.5 229.81)"/><ellipse cx="184.98" cy="220.69" rx="1.95" ry="1.95" fill="#fabe8c" stroke="#3a2a20" stroke-width="0.6" /><ellipse cx="181.91" cy="223.25" rx="3.05" ry="2.7" fill="#fabe8c" stroke="#3a2a20" stroke-width="0.65" transform="rotate(140.23 181.91 223.25)"/><ellipse cx="180.35" cy="213.86" rx="1.95" ry="1.95" fill="#fabe8c" stroke="#3a2a20" stroke-width="0.6" /><ellipse cx="176.83" cy="215.76" rx="3.05" ry="2.7" fill="#fabe8c" stroke="#3a2a20" stroke-width="0.65" transform="rotate(151.68 176.83 215.76)"/><ellipse cx="177.32" cy="206.47" rx="1.95" ry="1.95" fill="#fabe8c" stroke="#3a2a20" stroke-width="0.6" /><ellipse cx="173.48" cy="207.57" rx="3.05" ry="2.7" fill="#fabe8c" stroke="#3a2a20" stroke-width="0.65" transform="rotate(163.95 173.48 207.57)"/><ellipse cx="176.01" cy="198.75" rx="1.95" ry="1.95" fill="#fabe8c" stroke="#3a2a20" stroke-width="0.6" /><ellipse cx="172.01" cy="198.98" rx="3.05" ry="2.7" fill="#fabe8c" stroke="#3a2a20" stroke-width="0.65" transform="rotate(176.76 172.01 198.98)"/><ellipse cx="176.45" cy="190.97" rx="1.95" ry="1.95" fill="#fabe8c" stroke="#3a2a20" stroke-width="0.6" /><ellipse cx="172.5" cy="190.29" rx="3.05" ry="2.7" fill="#fabe8c" stroke="#3a2a20" stroke-width="0.65" transform="rotate(-170.31 172.5 190.29)"/><ellipse cx="178.63" cy="183.38" rx="1.95" ry="1.95" fill="#fabe8c" stroke="#3a2a20" stroke-width="0.6" /><ellipse cx="174.93" cy="181.86" rx="3.05" ry="2.7" fill="#fabe8c" stroke="#3a2a20" stroke-width="0.65" transform="rotate(-157.73 174.93 181.86)"/><ellipse cx="182.47" cy="176.24" rx="1.95" ry="1.95" fill="#fabe8c" stroke="#3a2a20" stroke-width="0.6" /><ellipse cx="179.16" cy="174" rx="3.05" ry="2.7" fill="#fabe8c" stroke="#3a2a20" stroke-width="0.65" transform="rotate(-145.85 179.16 174)"/><ellipse cx="187.85" cy="169.78" rx="1.95" ry="1.95" fill="#fabe8c" stroke="#3a2a20" stroke-width="0.6" /><ellipse cx="185.03" cy="166.94" rx="3.05" ry="2.7" fill="#fabe8c" stroke="#3a2a20" stroke-width="0.65" transform="rotate(-134.85 185.03 166.94)"/><ellipse cx="194.58" cy="164.2" rx="1.95" ry="1.95" fill="#fabe8c" stroke="#3a2a20" stroke-width="0.6" /><ellipse cx="192.3" cy="160.91" rx="3.05" ry="2.7" fill="#fabe8c" stroke="#3a2a20" stroke-width="0.65" transform="rotate(-124.72 192.3 160.91)"/><ellipse cx="202.44" cy="159.67" rx="1.95" ry="1.95" fill="#fabe8c" stroke="#3a2a20" stroke-width="0.6" /><ellipse cx="200.72" cy="156.06" rx="3.05" ry="2.7" fill="#fabe8c" stroke="#3a2a20" stroke-width="0.65" transform="rotate(-115.36 200.72 156.06)"/><ellipse cx="211.17" cy="156.33" rx="1.95" ry="1.95" fill="#fabe8c" stroke="#3a2a20" stroke-width="0.6" /><ellipse cx="210.03" cy="152.5" rx="3.05" ry="2.7" fill="#fabe8c" stroke="#3a2a20" stroke-width="0.65" transform="rotate(-106.58 210.03 152.5)"/><ellipse cx="220.51" cy="154.29" rx="1.95" ry="1.95" fill="#fabe8c" stroke="#3a2a20" stroke-width="0.6" /><ellipse cx="219.94" cy="150.33" rx="3.05" ry="2.7" fill="#fabe8c" stroke="#3a2a20" stroke-width="0.65" transform="rotate(-98.19 219.94 150.33)"/><ellipse cx="230.15" cy="196.8" rx="53.3" ry="42.1" fill="none" stroke="#1f2d33" stroke-width="0.95" /><ellipse cx="230.15" cy="196.8" rx="50.7" ry="40.2" fill="#cfecf9" stroke="#1f2d33" stroke-width="0.95" /><path d="M242.61,169.56 L238.65,162 M240.94,168.98 L236.95,162.39 M239.24,168.8 L235.27,162.26 M237.61,169.85 L233.65,161.83 M236.32,170.06 L231.68,162.23 M234.78,170.91 L230.32,163.92 M233.41,171.88 L228.51,163.66 M231.59,170.35 L226.75,164.34 M229.74,171.03 L225.4,164.48 M228.57,173.03 L223.52,163.9 M226.99,173 L221.88,164.64 M224.93,171.91 L220.54,165.79 M223.91,173.59 L218.44,165.26 M222.38,173.82 L216.8,165.99 M221.31,174.45 L214.68,166.35 M220.04,175.22 L213.5,168.21 M218.83,176.2 L211.87,168.85 M216.82,175.53 L210.74,170.58 M215.1,175.55 L208.74,170.72 M214.78,177.68 L206.94,171.47 M213.88,178.86 L205.35,172.42 M212.26,178.97 L204.02,173.91 M211.59,180.16 L202.25,174.94 M210.23,181.29 L201.65,176.51 M209.68,181.84 L200.25,178.57 M207.87,182.56 L199.75,180.2 M206.05,183.07 L198.67,181.69 M205.86,184.94 L198.28,183.37 M204.72,185.94 L196.97,184.75 M205.29,188.04 L194.95,185.62 M204.56,188.97 L195.02,188.05 M203.95,190.57 L193.42,189.05 M203.13,191.32 L194.27,191.81 M201.3,192.59 L193.42,193.14 M201.45,194.07 L193.22,195.08 M200.87,195.46 L192.71,196.83 M201.47,196.73 L192.94,198.96 M201.54,198.12 L191.87,200.77 M201.7,199.25 L192.5,202.83 M201.8,200.17 L192.6,205.15 M200.27,201.73 L193.31,207.23 M201.1,203 L193.58,209.14 M201.14,204.49 L195.58,210.4 M201.36,206.11 L196.62,211.89 M201.87,207.21 L197.73,213.78 M203.99,207.34 L197.83,216.16 M204.19,209.23 L200.14,216.5 M205.38,209.9 L202.28,217.27 M206.2,211.38 L202.22,219.64 M206.84,212.81 L204.34,220.16 M208.76,212.97 L204.61,222.59 M210.02,213.51 L206.17,223.85 M211.14,214.81 L208.28,223.71 M212.61,214.55 L209.8,225.4 M212.94,217.21 L211.71,225.48 M214.9,216.3 L213.38,226.53 M215.49,217.66 L215.8,226.24 M216.7,216.78 L217.71,227.97 M217.81,218.12 L219.62,228.53 M218.96,219.25 L221.85,228.12 M220.43,220.03 L223.72,226.73 M221.37,218.49 L226.04,227.5 M222.39,217.3 L228,226.86 M224.05,219.19 L229.97,225.58 M225.06,218.7 L231.43,223.67 M224.53,218.11 L234.59,222.33 M226.11,217.92 L235.75,220.38 M225.95,217 L235.95,217.55 M227.09,215.86 L237.33,216.11 M226.76,214.33 L237.12,214.04 M227.22,213.42 L238.2,211.92 M227.77,212.26 L238.55,209.82 M228.67,210.91 L235.86,207.87 M227.59,210.47 L236.55,205.23 M227.56,209.29 L236.75,202.93 M228.23,207.23 L235.74,201.58 M226.38,206.41 L235.28,199.73 M225.42,204.82 L234.34,198.5 M225.5,202.37 L234.7,197.36 M225.6,200.2 L233.17,196.46 M225.94,198.25 L233.68,195.06 M224.15,196.2 L234.72,193.85 M224.89,194.59 L234.31,192.19 M224.27,192.08 L235.15,191.4 M225.58,190.17 L234.85,190.17 M226.44,188 L234.36,188.9 M227.3,186.38 L235.26,187.65 M228.16,183.9 L236.81,187.75 M229.68,182.88 L238.27,187.12 M231.26,181.02 L238.9,186.61 M232.25,179.29 L240.2,185.89 M233.98,178.26 L241.45,185.47 M235.88,177.46 L242.42,184.66 M237.56,176.48 L243.78,184.34 M239.51,175.92 L244.9,183.54 M241.28,175.15 L246.57,184.61 M243.36,174.6 L247.56,183.28 M245.63,175.68 L248.66,182.89 M247.41,176.15 L250.17,183.25 M249.46,173.9 L251.53,183.7 M251.25,175.39 L252.97,183.27 M253.51,175.37 L254.2,183.42 M255.12,176.44 L255.2,184.82 M257.62,176.26 L256.16,185.53 M258.95,178.17 L257.27,186 M260.93,179.27 L257.63,187.22 M263.21,179.83 L258.14,188.49 M264.34,182.11 L258.69,189.06 M265.71,183.89 L258.35,190.31 M268.21,184.99 L259.09,191.51 M266.26,188.03 L259.75,192.23 M268.09,189.59 L258.69,193.82 M268.52,191.41 L260.2,195.13 M268.49,193.87 L260.5,196.07 M268.05,195.56 L258.62,197.45 M267.19,197.54 L259.58,198.79 M267.04,199.48 L259.23,200.15 M267.9,202.17 L257.64,200.75 M265.51,202.91 L257.72,202.61 M265.53,205.47 L257.04,203.54 M263.83,206.96 L255.98,204.18 M262.16,208.25 L254.77,204.69 M260.8,209.35 L254.01,206.11 M260.11,210.65 L252.26,207.04 M259.27,212.02 L250.89,208.17 M257.41,211.91 L250.11,210.56 M258.2,213.43 L248.07,212.29 M257.1,213.88 L247.84,215.01 M257.8,215.27 L247.46,217.1 M257.47,215.67 L247.84,219.98 M257.04,216.74 L248.52,222.24 M257.99,218.07 L249.13,223.91 " stroke="#6a1a8c" stroke-width="1.15" stroke-linecap="round" fill="none"/>
<circle cx="354.2" cy="202.1" r="23.2" fill="#d5dfd1" stroke="#2a3030" stroke-width="1.05" />
<path d="M354.6,185.4 L369.55,193.98 L369.55,211.12 L354.6,219.7 L339.65,211.12 L339.65,193.98 Z" fill="#fabe8c" stroke="#1c1410" stroke-width="1.1" stroke-linejoin="round"/><path d="M354.6,185.4 L346.65,198.33 M354.6,185.4 L362.55,198.33 M346.65,198.33 L362.55,198.33 M339.65,193.98 L346.65,198.33 M339.65,211.12 L346.65,198.33 M369.55,193.98 L362.55,198.33 M369.55,211.12 L362.55,198.33 M346.65,198.33 L354.6,212.84 M362.55,198.33 L354.6,212.84 M339.65,211.12 L354.6,212.84 M369.55,211.12 L354.6,212.84 M354.6,219.7 L354.6,212.84" fill="none" stroke="#1c1410" stroke-width="1.1" stroke-linecap="round"/>
<line x1="481.3" y1="199.26" x2="486.6" y2="199.2" stroke="#4a3018" stroke-width="1.5" stroke-linecap="butt"/><line x1="481.3" y1="199.26" x2="486.4" y2="199.2" stroke="#b8845a" stroke-width="0.7" stroke-linecap="butt"/><circle cx="487.4" cy="199.19" r="1.3" fill="#c89060" stroke="#4a3018" stroke-width="0.5" /><line x1="473.92" y1="185.02" x2="477.28" y2="180.92" stroke="#4a3018" stroke-width="1.5" stroke-linecap="butt"/><line x1="473.92" y1="185.02" x2="477.15" y2="181.07" stroke="#b8845a" stroke-width="0.7" stroke-linecap="butt"/><circle cx="477.79" cy="180.3" r="1.3" fill="#c89060" stroke="#4a3018" stroke-width="0.5" /><line x1="476.91" y1="187.95" x2="480.96" y2="184.54" stroke="#4a3018" stroke-width="1.5" stroke-linecap="butt"/><line x1="476.91" y1="187.95" x2="480.81" y2="184.67" stroke="#b8845a" stroke-width="0.7" stroke-linecap="butt"/><circle cx="481.57" cy="184.02" r="1.3" fill="#c89060" stroke="#4a3018" stroke-width="0.5" /><line x1="479.18" y1="191.27" x2="483.84" y2="188.75" stroke="#4a3018" stroke-width="1.5" stroke-linecap="butt"/><line x1="479.18" y1="191.27" x2="483.66" y2="188.85" stroke="#b8845a" stroke-width="0.7" stroke-linecap="butt"/><circle cx="484.54" cy="188.37" r="1.3" fill="#c89060" stroke="#4a3018" stroke-width="0.5" /><line x1="480.66" y1="194.88" x2="485.75" y2="193.43" stroke="#4a3018" stroke-width="1.5" stroke-linecap="butt"/><line x1="480.66" y1="194.88" x2="485.56" y2="193.48" stroke="#b8845a" stroke-width="0.7" stroke-linecap="butt"/><circle cx="486.52" cy="193.21" r="1.3" fill="#c89060" stroke="#4a3018" stroke-width="0.5" /><line x1="481.28" y1="198.65" x2="486.57" y2="198.4" stroke="#4a3018" stroke-width="1.5" stroke-linecap="butt"/><line x1="481.28" y1="198.65" x2="486.37" y2="198.41" stroke="#b8845a" stroke-width="0.7" stroke-linecap="butt"/><circle cx="487.37" cy="198.36" r="1.3" fill="#c89060" stroke="#4a3018" stroke-width="0.5" /><line x1="481.02" y1="202.45" x2="486.24" y2="203.42" stroke="#4a3018" stroke-width="1.5" stroke-linecap="butt"/><line x1="481.02" y1="202.45" x2="486.04" y2="203.38" stroke="#b8845a" stroke-width="0.7" stroke-linecap="butt"/><circle cx="487.02" cy="203.56" r="1.3" fill="#c89060" stroke="#4a3018" stroke-width="0.5" /><line x1="479.9" y1="206.15" x2="484.76" y2="208.24" stroke="#4a3018" stroke-width="1.5" stroke-linecap="butt"/><line x1="479.9" y1="206.15" x2="484.58" y2="208.17" stroke="#b8845a" stroke-width="0.7" stroke-linecap="butt"/><circle cx="485.5" cy="208.56" r="1.3" fill="#c89060" stroke="#4a3018" stroke-width="0.5" /><line x1="477.95" y1="209.6" x2="482.27" y2="212.67" stroke="#4a3018" stroke-width="1.5" stroke-linecap="butt"/><line x1="477.95" y1="209.6" x2="482.11" y2="212.55" stroke="#b8845a" stroke-width="0.7" stroke-linecap="butt"/><circle cx="482.92" cy="213.13" r="1.3" fill="#c89060" stroke="#4a3018" stroke-width="0.5" /><line x1="475.25" y1="212.71" x2="478.9" y2="216.55" stroke="#4a3018" stroke-width="1.5" stroke-linecap="butt"/><line x1="475.25" y1="212.71" x2="478.77" y2="216.4" stroke="#b8845a" stroke-width="0.7" stroke-linecap="butt"/><circle cx="479.46" cy="217.13" r="1.3" fill="#c89060" stroke="#4a3018" stroke-width="0.5" /><line x1="471.89" y1="215.38" x2="474.82" y2="219.8" stroke="#4a3018" stroke-width="1.5" stroke-linecap="butt"/><line x1="471.89" y1="215.38" x2="474.71" y2="219.63" stroke="#b8845a" stroke-width="0.7" stroke-linecap="butt"/><circle cx="475.27" cy="220.46" r="1.3" fill="#c89060" stroke="#4a3018" stroke-width="0.5" /><line x1="468" y1="217.52" x2="470.18" y2="222.35" stroke="#4a3018" stroke-width="1.5" stroke-linecap="butt"/><line x1="468" y1="217.52" x2="470.1" y2="222.17" stroke="#b8845a" stroke-width="0.7" stroke-linecap="butt"/><circle cx="470.51" cy="223.08" r="1.3" fill="#c89060" stroke="#4a3018" stroke-width="0.5" /><line x1="463.69" y1="219.09" x2="465.12" y2="224.19" stroke="#4a3018" stroke-width="1.5" stroke-linecap="butt"/><line x1="463.69" y1="219.09" x2="465.06" y2="224" stroke="#b8845a" stroke-width="0.7" stroke-linecap="butt"/><circle cx="465.33" cy="224.96" r="1.3" fill="#c89060" stroke="#4a3018" stroke-width="0.5" /><line x1="459.09" y1="220.02" x2="459.78" y2="225.28" stroke="#4a3018" stroke-width="1.5" stroke-linecap="butt"/><line x1="459.09" y1="220.02" x2="459.75" y2="225.08" stroke="#b8845a" stroke-width="0.7" stroke-linecap="butt"/><circle cx="459.88" cy="226.07" r="1.3" fill="#c89060" stroke="#4a3018" stroke-width="0.5" /><line x1="454.37" y1="220.3" x2="454.31" y2="225.6" stroke="#4a3018" stroke-width="1.5" stroke-linecap="butt"/><line x1="454.37" y1="220.3" x2="454.31" y2="225.4" stroke="#b8845a" stroke-width="0.7" stroke-linecap="butt"/><circle cx="454.3" cy="226.4" r="1.3" fill="#c89060" stroke="#4a3018" stroke-width="0.5" /><line x1="449.65" y1="219.91" x2="448.85" y2="225.15" stroke="#4a3018" stroke-width="1.5" stroke-linecap="butt"/><line x1="449.65" y1="219.91" x2="448.88" y2="224.95" stroke="#b8845a" stroke-width="0.7" stroke-linecap="butt"/><circle cx="448.72" cy="225.94" r="1.3" fill="#c89060" stroke="#4a3018" stroke-width="0.5" /><line x1="445.09" y1="218.87" x2="443.54" y2="223.94" stroke="#4a3018" stroke-width="1.5" stroke-linecap="butt"/><line x1="445.09" y1="218.87" x2="443.6" y2="223.75" stroke="#b8845a" stroke-width="0.7" stroke-linecap="butt"/><circle cx="443.31" cy="224.71" r="1.3" fill="#c89060" stroke="#4a3018" stroke-width="0.5" /><line x1="440.84" y1="217.21" x2="438.54" y2="221.99" stroke="#4a3018" stroke-width="1.5" stroke-linecap="butt"/><line x1="440.84" y1="217.21" x2="438.62" y2="221.81" stroke="#b8845a" stroke-width="0.7" stroke-linecap="butt"/><circle cx="438.19" cy="222.71" r="1.3" fill="#c89060" stroke="#4a3018" stroke-width="0.5" /><line x1="437.02" y1="214.98" x2="433.97" y2="219.32" stroke="#4a3018" stroke-width="1.5" stroke-linecap="butt"/><line x1="437.02" y1="214.98" x2="434.09" y2="219.15" stroke="#b8845a" stroke-width="0.7" stroke-linecap="butt"/><circle cx="433.51" cy="219.97" r="1.3" fill="#c89060" stroke="#4a3018" stroke-width="0.5" /><line x1="433.77" y1="212.24" x2="430" y2="215.96" stroke="#4a3018" stroke-width="1.5" stroke-linecap="butt"/><line x1="433.77" y1="212.24" x2="430.14" y2="215.82" stroke="#b8845a" stroke-width="0.7" stroke-linecap="butt"/><circle cx="429.43" cy="216.52" r="1.3" fill="#c89060" stroke="#4a3018" stroke-width="0.5" /><line x1="431.18" y1="209.06" x2="426.76" y2="211.99" stroke="#4a3018" stroke-width="1.5" stroke-linecap="butt"/><line x1="431.18" y1="209.06" x2="426.93" y2="211.88" stroke="#b8845a" stroke-width="0.7" stroke-linecap="butt"/><circle cx="426.09" cy="212.43" r="1.3" fill="#c89060" stroke="#4a3018" stroke-width="0.5" /><line x1="429.36" y1="205.56" x2="424.42" y2="207.49" stroke="#4a3018" stroke-width="1.5" stroke-linecap="butt"/><line x1="429.36" y1="205.56" x2="424.61" y2="207.41" stroke="#b8845a" stroke-width="0.7" stroke-linecap="butt"/><circle cx="423.68" cy="207.78" r="1.3" fill="#c89060" stroke="#4a3018" stroke-width="0.5" /><line x1="428.37" y1="201.84" x2="423.13" y2="202.61" stroke="#4a3018" stroke-width="1.5" stroke-linecap="butt"/><line x1="428.37" y1="201.84" x2="423.33" y2="202.58" stroke="#b8845a" stroke-width="0.7" stroke-linecap="butt"/><circle cx="422.34" cy="202.73" r="1.3" fill="#c89060" stroke="#4a3018" stroke-width="0.5" /><line x1="428.26" y1="198.04" x2="422.98" y2="197.58" stroke="#4a3018" stroke-width="1.5" stroke-linecap="butt"/><line x1="428.26" y1="198.04" x2="423.18" y2="197.6" stroke="#b8845a" stroke-width="0.7" stroke-linecap="butt"/><circle cx="422.18" cy="197.51" r="1.3" fill="#c89060" stroke="#4a3018" stroke-width="0.5" /><line x1="429.03" y1="194.28" x2="423.98" y2="192.65" stroke="#4a3018" stroke-width="1.5" stroke-linecap="butt"/><line x1="429.03" y1="194.28" x2="424.17" y2="192.71" stroke="#b8845a" stroke-width="0.7" stroke-linecap="butt"/><circle cx="423.22" cy="192.4" r="1.3" fill="#c89060" stroke="#4a3018" stroke-width="0.5" /><line x1="430.64" y1="190.71" x2="426.07" y2="188.03" stroke="#4a3018" stroke-width="1.5" stroke-linecap="butt"/><line x1="430.64" y1="190.71" x2="426.24" y2="188.13" stroke="#b8845a" stroke-width="0.7" stroke-linecap="butt"/><circle cx="425.37" cy="187.63" r="1.3" fill="#c89060" stroke="#4a3018" stroke-width="0.5" /><line x1="433.03" y1="187.45" x2="429.08" y2="183.91" stroke="#4a3018" stroke-width="1.5" stroke-linecap="butt"/><line x1="433.03" y1="187.45" x2="429.23" y2="184.04" stroke="#b8845a" stroke-width="0.7" stroke-linecap="butt"/><circle cx="428.49" cy="183.38" r="1.3" fill="#c89060" stroke="#4a3018" stroke-width="0.5" /><line x1="436.12" y1="184.58" x2="432.88" y2="180.39" stroke="#4a3018" stroke-width="1.5" stroke-linecap="butt"/><line x1="436.12" y1="184.58" x2="433" y2="180.55" stroke="#b8845a" stroke-width="0.7" stroke-linecap="butt"/><circle cx="432.39" cy="179.76" r="1.3" fill="#c89060" stroke="#4a3018" stroke-width="0.5" /><line x1="439.8" y1="182.21" x2="437.31" y2="177.54" stroke="#4a3018" stroke-width="1.5" stroke-linecap="butt"/><line x1="439.8" y1="182.21" x2="437.4" y2="177.71" stroke="#b8845a" stroke-width="0.7" stroke-linecap="butt"/><circle cx="436.93" cy="176.83" r="1.3" fill="#c89060" stroke="#4a3018" stroke-width="0.5" /><line x1="443.96" y1="180.4" x2="442.21" y2="175.39" stroke="#4a3018" stroke-width="1.5" stroke-linecap="butt"/><line x1="443.96" y1="180.4" x2="442.28" y2="175.58" stroke="#b8845a" stroke-width="0.7" stroke-linecap="butt"/><circle cx="441.95" cy="174.64" r="1.3" fill="#c89060" stroke="#4a3018" stroke-width="0.5" /><line x1="448.45" y1="179.19" x2="447.45" y2="173.99" stroke="#4a3018" stroke-width="1.5" stroke-linecap="butt"/><line x1="448.45" y1="179.19" x2="447.49" y2="174.19" stroke="#b8845a" stroke-width="0.7" stroke-linecap="butt"/><circle cx="447.3" cy="173.2" r="1.3" fill="#c89060" stroke="#4a3018" stroke-width="0.5" /><line x1="453.14" y1="178.64" x2="452.89" y2="173.34" stroke="#4a3018" stroke-width="1.5" stroke-linecap="butt"/><line x1="453.14" y1="178.64" x2="452.9" y2="173.54" stroke="#b8845a" stroke-width="0.7" stroke-linecap="butt"/><circle cx="452.85" cy="172.55" r="1.3" fill="#c89060" stroke="#4a3018" stroke-width="0.5" /><line x1="457.88" y1="178.74" x2="458.37" y2="173.47" stroke="#4a3018" stroke-width="1.5" stroke-linecap="butt"/><line x1="457.88" y1="178.74" x2="458.35" y2="173.67" stroke="#b8845a" stroke-width="0.7" stroke-linecap="butt"/><circle cx="458.44" cy="172.67" r="1.3" fill="#c89060" stroke="#4a3018" stroke-width="0.5" /><line x1="462.52" y1="179.51" x2="463.76" y2="174.36" stroke="#4a3018" stroke-width="1.5" stroke-linecap="butt"/><line x1="462.52" y1="179.51" x2="463.71" y2="174.55" stroke="#b8845a" stroke-width="0.7" stroke-linecap="butt"/><circle cx="463.94" cy="173.58" r="1.3" fill="#c89060" stroke="#4a3018" stroke-width="0.5" /><line x1="466.92" y1="180.91" x2="468.9" y2="176" stroke="#4a3018" stroke-width="1.5" stroke-linecap="butt"/><line x1="466.92" y1="180.91" x2="468.83" y2="176.19" stroke="#b8845a" stroke-width="0.7" stroke-linecap="butt"/><circle cx="469.2" cy="175.26" r="1.3" fill="#c89060" stroke="#4a3018" stroke-width="0.5" /><line x1="470.93" y1="182.91" x2="473.67" y2="178.37" stroke="#4a3018" stroke-width="1.5" stroke-linecap="butt"/><line x1="470.93" y1="182.91" x2="473.57" y2="178.55" stroke="#b8845a" stroke-width="0.7" stroke-linecap="butt"/><circle cx="474.08" cy="177.69" r="1.3" fill="#c89060" stroke="#4a3018" stroke-width="0.5" /><line x1="474.44" y1="185.45" x2="477.91" y2="181.45" stroke="#4a3018" stroke-width="1.5" stroke-linecap="butt"/><line x1="474.44" y1="185.45" x2="477.78" y2="181.6" stroke="#b8845a" stroke-width="0.7" stroke-linecap="butt"/><circle cx="478.44" cy="180.84" r="1.3" fill="#c89060" stroke="#4a3018" stroke-width="0.5" /><line x1="477.32" y1="188.45" x2="481.48" y2="185.17" stroke="#4a3018" stroke-width="1.5" stroke-linecap="butt"/><line x1="477.32" y1="188.45" x2="481.32" y2="185.3" stroke="#b8845a" stroke-width="0.7" stroke-linecap="butt"/><circle cx="482.1" cy="184.68" r="1.3" fill="#c89060" stroke="#4a3018" stroke-width="0.5" /><line x1="479.47" y1="191.83" x2="484.21" y2="189.47" stroke="#4a3018" stroke-width="1.5" stroke-linecap="butt"/><line x1="479.47" y1="191.83" x2="484.03" y2="189.55" stroke="#b8845a" stroke-width="0.7" stroke-linecap="butt"/><circle cx="484.93" cy="189.11" r="1.3" fill="#c89060" stroke="#4a3018" stroke-width="0.5" /><line x1="480.81" y1="195.47" x2="485.96" y2="194.2" stroke="#4a3018" stroke-width="1.5" stroke-linecap="butt"/><line x1="480.81" y1="195.47" x2="485.77" y2="194.25" stroke="#b8845a" stroke-width="0.7" stroke-linecap="butt"/><circle cx="486.74" cy="194.01" r="1.3" fill="#c89060" stroke="#4a3018" stroke-width="0.5" /><ellipse cx="454.75" cy="199.45" rx="28.4" ry="22.7" fill="none" stroke="#26343a" stroke-width="0.8" /><ellipse cx="454.75" cy="199.45" rx="25.55" ry="19.85" fill="#fabe8c" stroke="#3a2414" stroke-width="0.95" /><ellipse cx="443.2" cy="186.7" rx="2.75" ry="1.6" fill="#5a1280" stroke="#1a0520" stroke-width="0.65" transform="rotate(2 443.2 186.7)"/><ellipse cx="451.9" cy="183.9" rx="2.75" ry="1.6" fill="#5a1280" stroke="#1a0520" stroke-width="0.65" transform="rotate(-8 451.9 183.9)"/><ellipse cx="450.1" cy="188.9" rx="2.75" ry="1.6" fill="#5a1280" stroke="#1a0520" stroke-width="0.65" transform="rotate(10 450.1 188.9)"/><path d="M440.7,193.1 L441.07,193.04 L441.56,192.93 L442.16,192.79 L442.81,192.66 L443.49,192.56 L444.15,192.51 L444.77,192.55 L445.3,192.7 L445.76,192.98 L446.18,193.36 L446.58,193.83 L446.96,194.36 L447.31,194.92 L447.65,195.48 L447.98,196.02 L448.3,196.5 L448.57,196.96 L448.78,197.44 L448.95,197.92 L449.11,198.39 L449.31,198.83 L449.57,199.24 L449.92,199.6 L450.4,199.9 L451.04,200.11 L451.83,200.23 L452.72,200.29 L453.67,200.32 L454.63,200.35 L455.57,200.41 L456.44,200.51 L457.2,200.7 L457.9,200.96 L458.59,201.28 L459.26,201.63 L459.88,202.01 L460.43,202.42 L460.88,202.84 L461.21,203.27 L461.4,203.7 L461.39,204.13 L461.19,204.57 L460.84,205.03 L460.41,205.49 L459.95,205.97 L459.51,206.47 L459.14,206.98 L458.9,207.5 L458.82,208.07 L458.84,208.69 L458.94,209.35 L459.06,210.01 L459.16,210.65 L459.2,211.25 L459.13,211.77 L458.9,212.2 L458.53,212.55 L458.06,212.85 L457.51,213.11 L456.88,213.31 L456.19,213.44 L455.43,213.51 L454.64,213.49 L453.8,213.4 L452.88,213.2 L451.85,212.89 L450.75,212.5 L449.6,212.04 L448.45,211.54 L447.32,211.01 L446.26,210.49 L445.3,210 L444.39,209.51 L443.46,208.98 L442.56,208.43 L441.71,207.88 L440.94,207.32 L440.28,206.78 L439.76,206.27 L439.4,205.8 L439.24,205.36 L439.25,204.92 L439.41,204.51 L439.67,204.11 L440,203.74 L440.38,203.4 L440.75,203.08 L441.1,202.8 L441.48,202.58 L441.97,202.43 L442.51,202.31 L443.06,202.22 L443.58,202.13 L444.03,202.01 L444.35,201.84 L444.5,201.6 L444.46,201.28 L444.27,200.9 L443.96,200.49 L443.57,200.04 L443.14,199.57 L442.71,199.1 L442.31,198.64 L442,198.2 L441.73,197.76 L441.47,197.31 L441.21,196.85 L440.97,196.39 L440.75,195.95 L440.56,195.53 L440.41,195.14 L440.3,194.8 L440.25,194.49 L440.26,194.22 L440.31,193.96 L440.39,193.74 L440.49,193.54 L440.58,193.37 L440.65,193.22 L440.7,193.1" fill="none" stroke="#7e2598" stroke-width="1.2" stroke-linejoin="round"/><path d="M457.2,187.8 L457.19,188.2 L457.13,188.75 L457.06,189.4 L457,190.12 L456.99,190.85 L457.07,191.56 L457.26,192.19 L457.6,192.7 L458.11,193.1 L458.77,193.42 L459.54,193.69 L460.4,193.92 L461.31,194.14 L462.23,194.34 L463.14,194.56 L464,194.8 L464.85,195.09 L465.75,195.42 L466.67,195.77 L467.59,196.11 L468.48,196.42 L469.33,196.67 L470.11,196.84 L470.8,196.9 L471.42,196.85 L471.99,196.7 L472.51,196.48 L472.98,196.19 L473.39,195.87 L473.73,195.51 L474,195.15 L474.2,194.8 L474.27,194.42 L474.2,193.99 L474.03,193.53 L473.81,193.05 L473.58,192.58 L473.39,192.13 L473.28,191.73 L473.3,191.4 L473.49,191.13 L473.82,190.91 L474.24,190.72 L474.7,190.56 L475.14,190.43 L475.5,190.31 L475.74,190.21 L475.8,190.1 L475.67,190 L475.39,189.92 L474.99,189.85 L474.52,189.79 L474,189.75 L473.47,189.72 L472.96,189.71 L472.5,189.7 L472.09,189.73 L471.7,189.8 L471.31,189.89 L470.91,189.99 L470.5,190.08 L470.07,190.14 L469.61,190.15 L469.1,190.1 L468.53,189.97 L467.9,189.77 L467.24,189.53 L466.55,189.25 L465.86,188.96 L465.2,188.68 L464.57,188.42 L464,188.2 L463.49,188 L463.03,187.8 L462.6,187.61 L462.19,187.43 L461.8,187.27 L461.41,187.14 L461.01,187.05 L460.6,187 L460.15,187.01 L459.67,187.08 L459.18,187.19 L458.69,187.32 L458.23,187.47 L457.81,187.61 L457.46,187.72 L457.2,187.8" fill="none" stroke="#7e2598" stroke-width="1.2" stroke-linejoin="round"/>
<line x1="566.47" y1="189.9" x2="566.49" y2="187.2" stroke="#3a2a20" stroke-width="1.7" stroke-linecap="butt"/><line x1="566.47" y1="189.9" x2="566.49" y2="187.2" stroke="#e8a070" stroke-width="0.85" stroke-linecap="butt"/><ellipse cx="566.49" cy="185.5" rx="2.55" ry="2.0" fill="#fabe8c" stroke="#3a2a20" stroke-width="0.6" transform="rotate(-89.71 566.49 185.5)"/><line x1="573" y1="190.56" x2="573.52" y2="187.91" stroke="#3a2a20" stroke-width="1.7" stroke-linecap="butt"/><line x1="573" y1="190.56" x2="573.52" y2="187.91" stroke="#e8a070" stroke-width="0.85" stroke-linecap="butt"/><ellipse cx="573.85" cy="186.24" rx="2.55" ry="2.0" fill="#fabe8c" stroke="#3a2a20" stroke-width="0.6" transform="rotate(-78.8 573.85 186.24)"/><line x1="579.28" y1="192.44" x2="580.3" y2="189.93" stroke="#3a2a20" stroke-width="1.7" stroke-linecap="butt"/><line x1="579.28" y1="192.44" x2="580.3" y2="189.93" stroke="#e8a070" stroke-width="0.85" stroke-linecap="butt"/><ellipse cx="580.94" cy="188.36" rx="2.55" ry="2.0" fill="#fabe8c" stroke="#3a2a20" stroke-width="0.6" transform="rotate(-67.9 580.94 188.36)"/><line x1="585.1" y1="195.47" x2="586.57" y2="193.21" stroke="#3a2a20" stroke-width="1.7" stroke-linecap="butt"/><line x1="585.1" y1="195.47" x2="586.57" y2="193.21" stroke="#e8a070" stroke-width="0.85" stroke-linecap="butt"/><ellipse cx="587.49" cy="191.78" rx="2.55" ry="2.0" fill="#fabe8c" stroke="#3a2a20" stroke-width="0.6" transform="rotate(-56.99 587.49 191.78)"/><line x1="590.23" y1="199.55" x2="592.11" y2="197.61" stroke="#3a2a20" stroke-width="1.7" stroke-linecap="butt"/><line x1="590.23" y1="199.55" x2="592.11" y2="197.61" stroke="#e8a070" stroke-width="0.85" stroke-linecap="butt"/><ellipse cx="593.28" cy="196.38" rx="2.55" ry="2.0" fill="#fabe8c" stroke="#3a2a20" stroke-width="0.6" transform="rotate(-46.08 593.28 196.38)"/><line x1="594.5" y1="204.53" x2="596.71" y2="202.97" stroke="#3a2a20" stroke-width="1.7" stroke-linecap="butt"/><line x1="594.5" y1="204.53" x2="596.71" y2="202.97" stroke="#e8a070" stroke-width="0.85" stroke-linecap="butt"/><ellipse cx="598.1" cy="201.99" rx="2.55" ry="2.0" fill="#fabe8c" stroke="#3a2a20" stroke-width="0.6" transform="rotate(-35.17 598.1 201.99)"/><line x1="597.75" y1="210.23" x2="600.22" y2="209.12" stroke="#3a2a20" stroke-width="1.7" stroke-linecap="butt"/><line x1="597.75" y1="210.23" x2="600.22" y2="209.12" stroke="#e8a070" stroke-width="0.85" stroke-linecap="butt"/><ellipse cx="601.77" cy="208.42" rx="2.55" ry="2.0" fill="#fabe8c" stroke="#3a2a20" stroke-width="0.6" transform="rotate(-24.26 601.77 208.42)"/><line x1="599.87" y1="216.43" x2="602.49" y2="215.81" stroke="#3a2a20" stroke-width="1.7" stroke-linecap="butt"/><line x1="599.87" y1="216.43" x2="602.49" y2="215.81" stroke="#e8a070" stroke-width="0.85" stroke-linecap="butt"/><ellipse cx="604.15" cy="215.42" rx="2.55" ry="2.0" fill="#fabe8c" stroke="#3a2a20" stroke-width="0.6" transform="rotate(-13.35 604.15 215.42)"/><line x1="600.77" y1="222.93" x2="603.47" y2="222.82" stroke="#3a2a20" stroke-width="1.7" stroke-linecap="butt"/><line x1="600.77" y1="222.93" x2="603.47" y2="222.82" stroke="#e8a070" stroke-width="0.85" stroke-linecap="butt"/><ellipse cx="605.16" cy="222.74" rx="2.55" ry="2.0" fill="#fabe8c" stroke="#3a2a20" stroke-width="0.6" transform="rotate(-2.44 605.16 222.74)"/><line x1="600.42" y1="229.48" x2="603.09" y2="229.88" stroke="#3a2a20" stroke-width="1.7" stroke-linecap="butt"/><line x1="600.42" y1="229.48" x2="603.09" y2="229.88" stroke="#e8a070" stroke-width="0.85" stroke-linecap="butt"/><ellipse cx="604.78" cy="230.13" rx="2.55" ry="2.0" fill="#fabe8c" stroke="#3a2a20" stroke-width="0.6" transform="rotate(8.47 604.78 230.13)"/><line x1="598.85" y1="235.85" x2="601.39" y2="236.74" stroke="#3a2a20" stroke-width="1.7" stroke-linecap="butt"/><line x1="598.85" y1="235.85" x2="601.39" y2="236.74" stroke="#e8a070" stroke-width="0.85" stroke-linecap="butt"/><ellipse cx="603" cy="237.31" rx="2.55" ry="2.0" fill="#fabe8c" stroke="#3a2a20" stroke-width="0.6" transform="rotate(19.38 603 237.31)"/><line x1="596.09" y1="241.8" x2="598.42" y2="243.16" stroke="#3a2a20" stroke-width="1.7" stroke-linecap="butt"/><line x1="596.09" y1="241.8" x2="598.42" y2="243.16" stroke="#e8a070" stroke-width="0.85" stroke-linecap="butt"/><ellipse cx="599.89" cy="244.02" rx="2.55" ry="2.0" fill="#fabe8c" stroke="#3a2a20" stroke-width="0.6" transform="rotate(30.29 599.89 244.02)"/><line x1="592.26" y1="247.12" x2="594.29" y2="248.9" stroke="#3a2a20" stroke-width="1.7" stroke-linecap="butt"/><line x1="592.26" y1="247.12" x2="594.29" y2="248.9" stroke="#e8a070" stroke-width="0.85" stroke-linecap="butt"/><ellipse cx="595.57" cy="250.02" rx="2.55" ry="2.0" fill="#fabe8c" stroke="#3a2a20" stroke-width="0.6" transform="rotate(41.2 595.57 250.02)"/><line x1="587.49" y1="251.63" x2="589.15" y2="253.76" stroke="#3a2a20" stroke-width="1.7" stroke-linecap="butt"/><line x1="587.49" y1="251.63" x2="589.15" y2="253.76" stroke="#e8a070" stroke-width="0.85" stroke-linecap="butt"/><ellipse cx="590.19" cy="255.1" rx="2.55" ry="2.0" fill="#fabe8c" stroke="#3a2a20" stroke-width="0.6" transform="rotate(52.1 590.19 255.1)"/><line x1="581.96" y1="255.14" x2="583.18" y2="257.55" stroke="#3a2a20" stroke-width="1.7" stroke-linecap="butt"/><line x1="581.96" y1="255.14" x2="583.18" y2="257.55" stroke="#e8a070" stroke-width="0.85" stroke-linecap="butt"/><ellipse cx="583.95" cy="259.06" rx="2.55" ry="2.0" fill="#fabe8c" stroke="#3a2a20" stroke-width="0.6" transform="rotate(63.01 583.95 259.06)"/><line x1="575.85" y1="257.55" x2="576.6" y2="260.15" stroke="#3a2a20" stroke-width="1.7" stroke-linecap="butt"/><line x1="575.85" y1="257.55" x2="576.6" y2="260.15" stroke="#e8a070" stroke-width="0.85" stroke-linecap="butt"/><ellipse cx="577.07" cy="261.78" rx="2.55" ry="2.0" fill="#fabe8c" stroke="#3a2a20" stroke-width="0.6" transform="rotate(73.92 577.07 261.78)"/><line x1="569.41" y1="258.76" x2="569.65" y2="261.45" stroke="#3a2a20" stroke-width="1.7" stroke-linecap="butt"/><line x1="569.41" y1="258.76" x2="569.65" y2="261.45" stroke="#e8a070" stroke-width="0.85" stroke-linecap="butt"/><ellipse cx="569.8" cy="263.14" rx="2.55" ry="2.0" fill="#fabe8c" stroke="#3a2a20" stroke-width="0.6" transform="rotate(84.83 569.8 263.14)"/><line x1="562.85" y1="258.73" x2="562.58" y2="261.41" stroke="#3a2a20" stroke-width="1.7" stroke-linecap="butt"/><line x1="562.85" y1="258.73" x2="562.58" y2="261.41" stroke="#e8a070" stroke-width="0.85" stroke-linecap="butt"/><ellipse cx="562.41" cy="263.1" rx="2.55" ry="2.0" fill="#fabe8c" stroke="#3a2a20" stroke-width="0.6" transform="rotate(95.74 562.41 263.1)"/><line x1="556.41" y1="257.45" x2="555.64" y2="260.04" stroke="#3a2a20" stroke-width="1.7" stroke-linecap="butt"/><line x1="556.41" y1="257.45" x2="555.64" y2="260.04" stroke="#e8a070" stroke-width="0.85" stroke-linecap="butt"/><ellipse cx="555.15" cy="261.67" rx="2.55" ry="2.0" fill="#fabe8c" stroke="#3a2a20" stroke-width="0.6" transform="rotate(106.65 555.15 261.67)"/><line x1="550.34" y1="254.99" x2="549.09" y2="257.38" stroke="#3a2a20" stroke-width="1.7" stroke-linecap="butt"/><line x1="550.34" y1="254.99" x2="549.09" y2="257.38" stroke="#e8a070" stroke-width="0.85" stroke-linecap="butt"/><ellipse cx="548.3" cy="258.89" rx="2.55" ry="2.0" fill="#fabe8c" stroke="#3a2a20" stroke-width="0.6" transform="rotate(117.56 548.3 258.89)"/><line x1="544.84" y1="251.41" x2="543.16" y2="253.53" stroke="#3a2a20" stroke-width="1.7" stroke-linecap="butt"/><line x1="544.84" y1="251.41" x2="543.16" y2="253.53" stroke="#e8a070" stroke-width="0.85" stroke-linecap="butt"/><ellipse cx="542.1" cy="254.86" rx="2.55" ry="2.0" fill="#fabe8c" stroke="#3a2a20" stroke-width="0.6" transform="rotate(128.47 542.1 254.86)"/><line x1="540.11" y1="246.86" x2="538.06" y2="248.62" stroke="#3a2a20" stroke-width="1.7" stroke-linecap="butt"/><line x1="540.11" y1="246.86" x2="538.06" y2="248.62" stroke="#e8a070" stroke-width="0.85" stroke-linecap="butt"/><ellipse cx="536.77" cy="249.73" rx="2.55" ry="2.0" fill="#fabe8c" stroke="#3a2a20" stroke-width="0.6" transform="rotate(139.38 536.77 249.73)"/><line x1="536.34" y1="241.5" x2="533.99" y2="242.84" stroke="#3a2a20" stroke-width="1.7" stroke-linecap="butt"/><line x1="536.34" y1="241.5" x2="533.99" y2="242.84" stroke="#e8a070" stroke-width="0.85" stroke-linecap="butt"/><ellipse cx="532.51" cy="243.68" rx="2.55" ry="2.0" fill="#fabe8c" stroke="#3a2a20" stroke-width="0.6" transform="rotate(150.29 532.51 243.68)"/><line x1="533.64" y1="235.52" x2="531.09" y2="236.39" stroke="#3a2a20" stroke-width="1.7" stroke-linecap="butt"/><line x1="533.64" y1="235.52" x2="531.09" y2="236.39" stroke="#e8a070" stroke-width="0.85" stroke-linecap="butt"/><ellipse cx="529.48" cy="236.94" rx="2.55" ry="2.0" fill="#fabe8c" stroke="#3a2a20" stroke-width="0.6" transform="rotate(161.2 529.48 236.94)"/><line x1="532.13" y1="229.14" x2="529.45" y2="229.51" stroke="#3a2a20" stroke-width="1.7" stroke-linecap="butt"/><line x1="532.13" y1="229.14" x2="529.45" y2="229.51" stroke="#e8a070" stroke-width="0.85" stroke-linecap="butt"/><ellipse cx="527.77" cy="229.74" rx="2.55" ry="2.0" fill="#fabe8c" stroke="#3a2a20" stroke-width="0.6" transform="rotate(172.1 527.77 229.74)"/><line x1="531.85" y1="222.59" x2="529.15" y2="222.44" stroke="#3a2a20" stroke-width="1.7" stroke-linecap="butt"/><line x1="531.85" y1="222.59" x2="529.15" y2="222.44" stroke="#e8a070" stroke-width="0.85" stroke-linecap="butt"/><ellipse cx="527.45" cy="222.35" rx="2.55" ry="2.0" fill="#fabe8c" stroke="#3a2a20" stroke-width="0.6" transform="rotate(183.01 527.45 222.35)"/><line x1="532.81" y1="216.1" x2="530.19" y2="215.45" stroke="#3a2a20" stroke-width="1.7" stroke-linecap="butt"/><line x1="532.81" y1="216.1" x2="530.19" y2="215.45" stroke="#e8a070" stroke-width="0.85" stroke-linecap="butt"/><ellipse cx="528.54" cy="215.04" rx="2.55" ry="2.0" fill="#fabe8c" stroke="#3a2a20" stroke-width="0.6" transform="rotate(193.92 528.54 215.04)"/><line x1="534.99" y1="209.91" x2="532.54" y2="208.78" stroke="#3a2a20" stroke-width="1.7" stroke-linecap="butt"/><line x1="534.99" y1="209.91" x2="532.54" y2="208.78" stroke="#e8a070" stroke-width="0.85" stroke-linecap="butt"/><ellipse cx="531" cy="208.06" rx="2.55" ry="2.0" fill="#fabe8c" stroke="#3a2a20" stroke-width="0.6" transform="rotate(204.83 531 208.06)"/><line x1="538.3" y1="204.25" x2="536.11" y2="202.67" stroke="#3a2a20" stroke-width="1.7" stroke-linecap="butt"/><line x1="538.3" y1="204.25" x2="536.11" y2="202.67" stroke="#e8a070" stroke-width="0.85" stroke-linecap="butt"/><ellipse cx="534.73" cy="201.68" rx="2.55" ry="2.0" fill="#fabe8c" stroke="#3a2a20" stroke-width="0.6" transform="rotate(215.74 534.73 201.68)"/><line x1="542.62" y1="199.31" x2="540.76" y2="197.35" stroke="#3a2a20" stroke-width="1.7" stroke-linecap="butt"/><line x1="542.62" y1="199.31" x2="540.76" y2="197.35" stroke="#e8a070" stroke-width="0.85" stroke-linecap="butt"/><ellipse cx="539.6" cy="196.11" rx="2.55" ry="2.0" fill="#fabe8c" stroke="#3a2a20" stroke-width="0.6" transform="rotate(226.65 539.6 196.11)"/><line x1="547.79" y1="195.28" x2="546.34" y2="193.01" stroke="#3a2a20" stroke-width="1.7" stroke-linecap="butt"/><line x1="547.79" y1="195.28" x2="546.34" y2="193.01" stroke="#e8a070" stroke-width="0.85" stroke-linecap="butt"/><ellipse cx="545.43" cy="191.57" rx="2.55" ry="2.0" fill="#fabe8c" stroke="#3a2a20" stroke-width="0.6" transform="rotate(237.56 545.43 191.57)"/><line x1="553.64" y1="192.31" x2="552.65" y2="189.8" stroke="#3a2a20" stroke-width="1.7" stroke-linecap="butt"/><line x1="553.64" y1="192.31" x2="552.65" y2="189.8" stroke="#e8a070" stroke-width="0.85" stroke-linecap="butt"/><ellipse cx="552.02" cy="188.21" rx="2.55" ry="2.0" fill="#fabe8c" stroke="#3a2a20" stroke-width="0.6" transform="rotate(248.47 552.02 188.21)"/><line x1="559.94" y1="190.49" x2="559.44" y2="187.84" stroke="#3a2a20" stroke-width="1.7" stroke-linecap="butt"/><line x1="559.94" y1="190.49" x2="559.44" y2="187.84" stroke="#e8a070" stroke-width="0.85" stroke-linecap="butt"/><ellipse cx="559.13" cy="186.17" rx="2.55" ry="2.0" fill="#fabe8c" stroke="#3a2a20" stroke-width="0.6" transform="rotate(259.38 559.13 186.17)"/><circle cx="566.3" cy="224.4" r="34.6" fill="none" stroke="#1f2d33" stroke-width="0.9" /><circle cx="566.3" cy="224.4" r="31.8" fill="#fabe8c" stroke="#3a2a20" stroke-width="0.8" /><path d="M547.8,202.59 L556.42,210.57 L551.66,199.83 L558.83,209.13 L555.91,197.75 L561.46,208.1 L560.45,196.4 L564.21,207.53 L565.15,195.82 L567.03,207.42 L569.88,196.03 L569.82,207.77 L574.52,197.01 L572.52,208.58 L578.93,198.74 L575.04,209.82 M587.88,205.64 L580.01,214.35 L590.69,209.46 L581.48,216.75 L592.82,213.69 L582.54,219.36 L594.22,218.21 L583.14,222.11 L594.86,222.9 L583.29,224.92 L594.72,227.64 L582.97,227.72 L593.79,232.28 L582.2,230.42 L592.11,236.71 L580.99,232.96 L589.73,240.8 L579.37,235.27 L586.7,244.45 L577.4,237.28 L583.11,247.54 L575.12,238.93 L579.06,250 M567.8,252.96 L565.78,241.39 L563.06,252.82 L562.98,241.07 L558.42,251.89 L560.28,240.3 L553.99,250.21 L557.74,239.09 L549.9,247.83 L555.43,237.47 L546.25,244.8 L553.42,235.5 L543.16,241.21 L551.77,233.22 L540.7,237.16 L550.51,230.7 L538.95,232.76 L549.69,228.01 L537.94,228.13 L549.32,225.22 L537.72,223.4 L549.42,222.4 L538.27,218.7 L549.98,219.64 L539.6,214.15 L550.99,217.01 " fill="none" stroke="#6c1f8e" stroke-width="0.95" stroke-linejoin="miter" stroke-miterlimit="20"/>
<line x1="165.8" y1="296.2" x2="170.5" y2="300.5" stroke="#8a3030" stroke-width="1.2" stroke-linecap="butt"/><circle cx="165.8" cy="296.2" r="2.4" fill="#d94452" stroke="#3a2020" stroke-width="0.6" /><line x1="166.1" y1="328.1" x2="170.5" y2="324.5" stroke="#8a3030" stroke-width="1.2" stroke-linecap="butt"/><circle cx="166.1" cy="328.1" r="2.4" fill="#d94452" stroke="#3a2020" stroke-width="0.6" /><line x1="161.9" y1="312.3" x2="168" y2="312.3" stroke="#b07a4a" stroke-width="1.2" stroke-linecap="butt"/><circle cx="161.9" cy="312.3" r="2.4" fill="#fabe8c" stroke="#3a2020" stroke-width="0.6" /><line x1="484" y1="299.7" x2="479.5" y2="303" stroke="#8a3030" stroke-width="1.2" stroke-linecap="butt"/><circle cx="484" cy="299.7" r="2.4" fill="#d94452" stroke="#3a2020" stroke-width="0.6" /><line x1="483.2" y1="327.8" x2="479" y2="323" stroke="#8a3030" stroke-width="1.2" stroke-linecap="butt"/><circle cx="483.2" cy="327.8" r="2.4" fill="#d94452" stroke="#3a2020" stroke-width="0.6" /><line x1="489" y1="313.6" x2="482" y2="313.6" stroke="#b07a4a" stroke-width="1.2" stroke-linecap="butt"/><circle cx="489" cy="313.6" r="2.4" fill="#fabe8c" stroke="#3a2020" stroke-width="0.6" /><line x1="189.3" y1="287" x2="189.3" y2="292" stroke="#5a3a1a" stroke-width="1.3" stroke-linecap="butt"/><line x1="189.3" y1="332.6" x2="189.3" y2="337" stroke="#5a3a1a" stroke-width="1.3" stroke-linecap="butt"/><ellipse cx="189.3" cy="286" rx="2.75" ry="2.15" fill="#fabe8c" stroke="#3a2a20" stroke-width="0.65" /><ellipse cx="189.3" cy="338.5" rx="2.75" ry="2.15" fill="#fabe8c" stroke="#3a2a20" stroke-width="0.65" /><line x1="204.58" y1="287" x2="204.58" y2="292" stroke="#5a3a1a" stroke-width="1.3" stroke-linecap="butt"/><line x1="204.58" y1="332.6" x2="204.58" y2="337" stroke="#5a3a1a" stroke-width="1.3" stroke-linecap="butt"/><ellipse cx="204.58" cy="286" rx="2.75" ry="2.15" fill="#fabe8c" stroke="#3a2a20" stroke-width="0.65" /><ellipse cx="204.58" cy="338.5" rx="2.75" ry="2.15" fill="#fabe8c" stroke="#3a2a20" stroke-width="0.65" /><line x1="219.86" y1="287" x2="219.86" y2="292" stroke="#5a3a1a" stroke-width="1.3" stroke-linecap="butt"/><line x1="219.86" y1="332.6" x2="219.86" y2="337" stroke="#5a3a1a" stroke-width="1.3" stroke-linecap="butt"/><ellipse cx="219.86" cy="286" rx="2.75" ry="2.15" fill="#fabe8c" stroke="#3a2a20" stroke-width="0.65" /><ellipse cx="219.86" cy="338.5" rx="2.75" ry="2.15" fill="#fabe8c" stroke="#3a2a20" stroke-width="0.65" /><line x1="235.14" y1="287" x2="235.14" y2="292" stroke="#5a3a1a" stroke-width="1.3" stroke-linecap="butt"/><line x1="235.14" y1="332.6" x2="235.14" y2="337" stroke="#5a3a1a" stroke-width="1.3" stroke-linecap="butt"/><ellipse cx="235.14" cy="286" rx="2.75" ry="2.15" fill="#fabe8c" stroke="#3a2a20" stroke-width="0.65" /><ellipse cx="235.14" cy="338.5" rx="2.75" ry="2.15" fill="#fabe8c" stroke="#3a2a20" stroke-width="0.65" /><line x1="250.42" y1="287" x2="250.42" y2="292" stroke="#5a3a1a" stroke-width="1.3" stroke-linecap="butt"/><line x1="250.42" y1="332.6" x2="250.42" y2="337" stroke="#5a3a1a" stroke-width="1.3" stroke-linecap="butt"/><ellipse cx="250.42" cy="286" rx="2.75" ry="2.15" fill="#fabe8c" stroke="#3a2a20" stroke-width="0.65" /><ellipse cx="250.42" cy="338.5" rx="2.75" ry="2.15" fill="#fabe8c" stroke="#3a2a20" stroke-width="0.65" /><line x1="265.7" y1="287" x2="265.7" y2="292" stroke="#5a3a1a" stroke-width="1.3" stroke-linecap="butt"/><line x1="265.7" y1="332.6" x2="265.7" y2="337" stroke="#5a3a1a" stroke-width="1.3" stroke-linecap="butt"/><ellipse cx="265.7" cy="286" rx="2.75" ry="2.15" fill="#fabe8c" stroke="#3a2a20" stroke-width="0.65" /><ellipse cx="265.7" cy="338.5" rx="2.75" ry="2.15" fill="#fabe8c" stroke="#3a2a20" stroke-width="0.65" /><line x1="280.98" y1="287" x2="280.98" y2="292" stroke="#5a3a1a" stroke-width="1.3" stroke-linecap="butt"/><line x1="280.98" y1="332.6" x2="280.98" y2="337" stroke="#5a3a1a" stroke-width="1.3" stroke-linecap="butt"/><ellipse cx="280.98" cy="286" rx="2.75" ry="2.15" fill="#fabe8c" stroke="#3a2a20" stroke-width="0.65" /><ellipse cx="280.98" cy="338.5" rx="2.75" ry="2.15" fill="#fabe8c" stroke="#3a2a20" stroke-width="0.65" /><line x1="296.26" y1="287" x2="296.26" y2="292" stroke="#5a3a1a" stroke-width="1.3" stroke-linecap="butt"/><line x1="296.26" y1="332.6" x2="296.26" y2="337" stroke="#5a3a1a" stroke-width="1.3" stroke-linecap="butt"/><ellipse cx="296.26" cy="286" rx="2.75" ry="2.15" fill="#fabe8c" stroke="#3a2a20" stroke-width="0.65" /><ellipse cx="296.26" cy="338.5" rx="2.75" ry="2.15" fill="#fabe8c" stroke="#3a2a20" stroke-width="0.65" /><line x1="311.54" y1="287" x2="311.54" y2="292" stroke="#5a3a1a" stroke-width="1.3" stroke-linecap="butt"/><line x1="311.54" y1="332.6" x2="311.54" y2="337" stroke="#5a3a1a" stroke-width="1.3" stroke-linecap="butt"/><ellipse cx="311.54" cy="286" rx="2.75" ry="2.15" fill="#fabe8c" stroke="#3a2a20" stroke-width="0.65" /><ellipse cx="311.54" cy="338.5" rx="2.75" ry="2.15" fill="#fabe8c" stroke="#3a2a20" stroke-width="0.65" /><line x1="326.82" y1="287" x2="326.82" y2="292" stroke="#5a3a1a" stroke-width="1.3" stroke-linecap="butt"/><line x1="326.82" y1="332.6" x2="326.82" y2="337" stroke="#5a3a1a" stroke-width="1.3" stroke-linecap="butt"/><ellipse cx="326.82" cy="286" rx="2.75" ry="2.15" fill="#fabe8c" stroke="#3a2a20" stroke-width="0.65" /><ellipse cx="326.82" cy="338.5" rx="2.75" ry="2.15" fill="#fabe8c" stroke="#3a2a20" stroke-width="0.65" /><line x1="342.1" y1="287" x2="342.1" y2="292" stroke="#5a3a1a" stroke-width="1.3" stroke-linecap="butt"/><line x1="342.1" y1="332.6" x2="342.1" y2="337" stroke="#5a3a1a" stroke-width="1.3" stroke-linecap="butt"/><ellipse cx="342.1" cy="286" rx="2.75" ry="2.15" fill="#fabe8c" stroke="#3a2a20" stroke-width="0.65" /><ellipse cx="342.1" cy="338.5" rx="2.75" ry="2.15" fill="#fabe8c" stroke="#3a2a20" stroke-width="0.65" /><line x1="357.38" y1="287" x2="357.38" y2="292" stroke="#5a3a1a" stroke-width="1.3" stroke-linecap="butt"/><line x1="357.38" y1="332.6" x2="357.38" y2="337" stroke="#5a3a1a" stroke-width="1.3" stroke-linecap="butt"/><ellipse cx="357.38" cy="286" rx="2.75" ry="2.15" fill="#fabe8c" stroke="#3a2a20" stroke-width="0.65" /><ellipse cx="357.38" cy="338.5" rx="2.75" ry="2.15" fill="#fabe8c" stroke="#3a2a20" stroke-width="0.65" /><line x1="372.66" y1="287" x2="372.66" y2="292" stroke="#5a3a1a" stroke-width="1.3" stroke-linecap="butt"/><line x1="372.66" y1="332.6" x2="372.66" y2="337" stroke="#5a3a1a" stroke-width="1.3" stroke-linecap="butt"/><ellipse cx="372.66" cy="286" rx="2.75" ry="2.15" fill="#fabe8c" stroke="#3a2a20" stroke-width="0.65" /><ellipse cx="372.66" cy="338.5" rx="2.75" ry="2.15" fill="#fabe8c" stroke="#3a2a20" stroke-width="0.65" /><line x1="387.94" y1="287" x2="387.94" y2="292" stroke="#5a3a1a" stroke-width="1.3" stroke-linecap="butt"/><line x1="387.94" y1="332.6" x2="387.94" y2="337" stroke="#5a3a1a" stroke-width="1.3" stroke-linecap="butt"/><ellipse cx="387.94" cy="286" rx="2.75" ry="2.15" fill="#fabe8c" stroke="#3a2a20" stroke-width="0.65" /><ellipse cx="387.94" cy="338.5" rx="2.75" ry="2.15" fill="#fabe8c" stroke="#3a2a20" stroke-width="0.65" /><line x1="403.22" y1="287" x2="403.22" y2="292" stroke="#5a3a1a" stroke-width="1.3" stroke-linecap="butt"/><line x1="403.22" y1="332.6" x2="403.22" y2="337" stroke="#5a3a1a" stroke-width="1.3" stroke-linecap="butt"/><ellipse cx="403.22" cy="286" rx="2.75" ry="2.15" fill="#fabe8c" stroke="#3a2a20" stroke-width="0.65" /><ellipse cx="403.22" cy="338.5" rx="2.75" ry="2.15" fill="#fabe8c" stroke="#3a2a20" stroke-width="0.65" /><line x1="418.5" y1="287" x2="418.5" y2="292" stroke="#5a3a1a" stroke-width="1.3" stroke-linecap="butt"/><line x1="418.5" y1="332.6" x2="418.5" y2="337" stroke="#5a3a1a" stroke-width="1.3" stroke-linecap="butt"/><ellipse cx="418.5" cy="286" rx="2.75" ry="2.15" fill="#fabe8c" stroke="#3a2a20" stroke-width="0.65" /><ellipse cx="418.5" cy="338.5" rx="2.75" ry="2.15" fill="#fabe8c" stroke="#3a2a20" stroke-width="0.65" /><line x1="433.78" y1="287" x2="433.78" y2="292" stroke="#5a3a1a" stroke-width="1.3" stroke-linecap="butt"/><line x1="433.78" y1="332.6" x2="433.78" y2="337" stroke="#5a3a1a" stroke-width="1.3" stroke-linecap="butt"/><ellipse cx="433.78" cy="286" rx="2.75" ry="2.15" fill="#fabe8c" stroke="#3a2a20" stroke-width="0.65" /><ellipse cx="433.78" cy="338.5" rx="2.75" ry="2.15" fill="#fabe8c" stroke="#3a2a20" stroke-width="0.65" /><line x1="449.06" y1="287" x2="449.06" y2="292" stroke="#5a3a1a" stroke-width="1.3" stroke-linecap="butt"/><line x1="449.06" y1="332.6" x2="449.06" y2="337" stroke="#5a3a1a" stroke-width="1.3" stroke-linecap="butt"/><ellipse cx="449.06" cy="286" rx="2.75" ry="2.15" fill="#fabe8c" stroke="#3a2a20" stroke-width="0.65" /><ellipse cx="449.06" cy="338.5" rx="2.75" ry="2.15" fill="#fabe8c" stroke="#3a2a20" stroke-width="0.65" /><line x1="464.34" y1="287" x2="464.34" y2="292" stroke="#5a3a1a" stroke-width="1.3" stroke-linecap="butt"/><line x1="464.34" y1="332.6" x2="464.34" y2="337" stroke="#5a3a1a" stroke-width="1.3" stroke-linecap="butt"/><ellipse cx="464.34" cy="286" rx="2.75" ry="2.15" fill="#fabe8c" stroke="#3a2a20" stroke-width="0.65" /><ellipse cx="464.34" cy="338.5" rx="2.75" ry="2.15" fill="#fabe8c" stroke="#3a2a20" stroke-width="0.65" /><clipPath id="fic"><path d="M178.5,291.1 H470.5 A11.2,21.25 0 0 1 470.5,333.6 H178.5 A11.2,21.25 0 0 1 178.5,291.1 Z"/></clipPath><path d="M178.5,291.1 H470.5 A11.2,21.25 0 0 1 470.5,333.6 H178.5 A11.2,21.25 0 0 1 178.5,291.1 Z" fill="#fabe8c"/><path d="M171.11,291.1 V333.6 M176.77,291.1 V333.6 M182.43,291.1 V333.6 M188.09,291.1 V333.6 M193.75,291.1 V333.6 M199.41,291.1 V333.6 M205.07,291.1 V333.6 M210.73,291.1 V333.6 M216.39,291.1 V333.6 M222.05,291.1 V333.6 M227.71,291.1 V333.6 M233.37,291.1 V333.6 M239.03,291.1 V333.6 M244.69,291.1 V333.6 M250.35,291.1 V333.6 M256.01,291.1 V333.6 M261.67,291.1 V333.6 M267.33,291.1 V333.6 M272.99,291.1 V333.6 M278.65,291.1 V333.6 M284.31,291.1 V333.6 M289.97,291.1 V333.6 M295.63,291.1 V333.6 M301.29,291.1 V333.6 M306.95,291.1 V333.6 M312.61,291.1 V333.6 M318.27,291.1 V333.6 M323.93,291.1 V333.6 M329.59,291.1 V333.6 M335.25,291.1 V333.6 M340.91,291.1 V333.6 M346.57,291.1 V333.6 M352.23,291.1 V333.6 M357.89,291.1 V333.6 M363.55,291.1 V333.6 M369.21,291.1 V333.6 M374.87,291.1 V333.6 M380.53,291.1 V333.6 M386.19,291.1 V333.6 M391.85,291.1 V333.6 M397.51,291.1 V333.6 M403.17,291.1 V333.6 M408.83,291.1 V333.6 M414.49,291.1 V333.6 M420.15,291.1 V333.6 M425.81,291.1 V333.6 M431.47,291.1 V333.6 M437.13,291.1 V333.6 M442.79,291.1 V333.6 M448.45,291.1 V333.6 M454.11,291.1 V333.6 M459.77,291.1 V333.6 M465.43,291.1 V333.6 M471.09,291.1 V333.6 M476.75,291.1 V333.6 " stroke="#70461f" stroke-width="1.2" clip-path="url(#fic)"/><line x1="189.3" y1="291.1" x2="189.3" y2="297.1" stroke="#5a3414" stroke-width="1.2" stroke-linecap="butt"/><line x1="189.3" y1="327.6" x2="189.3" y2="333.6" stroke="#5a3414" stroke-width="1.2" stroke-linecap="butt"/><line x1="204.58" y1="291.1" x2="204.58" y2="297.1" stroke="#5a3414" stroke-width="1.2" stroke-linecap="butt"/><line x1="204.58" y1="327.6" x2="204.58" y2="333.6" stroke="#5a3414" stroke-width="1.2" stroke-linecap="butt"/><line x1="219.86" y1="291.1" x2="219.86" y2="297.1" stroke="#5a3414" stroke-width="1.2" stroke-linecap="butt"/><line x1="219.86" y1="327.6" x2="219.86" y2="333.6" stroke="#5a3414" stroke-width="1.2" stroke-linecap="butt"/><line x1="235.14" y1="291.1" x2="235.14" y2="297.1" stroke="#5a3414" stroke-width="1.2" stroke-linecap="butt"/><line x1="235.14" y1="327.6" x2="235.14" y2="333.6" stroke="#5a3414" stroke-width="1.2" stroke-linecap="butt"/><line x1="250.42" y1="291.1" x2="250.42" y2="297.1" stroke="#5a3414" stroke-width="1.2" stroke-linecap="butt"/><line x1="250.42" y1="327.6" x2="250.42" y2="333.6" stroke="#5a3414" stroke-width="1.2" stroke-linecap="butt"/><line x1="265.7" y1="291.1" x2="265.7" y2="297.1" stroke="#5a3414" stroke-width="1.2" stroke-linecap="butt"/><line x1="265.7" y1="327.6" x2="265.7" y2="333.6" stroke="#5a3414" stroke-width="1.2" stroke-linecap="butt"/><line x1="280.98" y1="291.1" x2="280.98" y2="297.1" stroke="#5a3414" stroke-width="1.2" stroke-linecap="butt"/><line x1="280.98" y1="327.6" x2="280.98" y2="333.6" stroke="#5a3414" stroke-width="1.2" stroke-linecap="butt"/><line x1="296.26" y1="291.1" x2="296.26" y2="297.1" stroke="#5a3414" stroke-width="1.2" stroke-linecap="butt"/><line x1="296.26" y1="327.6" x2="296.26" y2="333.6" stroke="#5a3414" stroke-width="1.2" stroke-linecap="butt"/><line x1="311.54" y1="291.1" x2="311.54" y2="297.1" stroke="#5a3414" stroke-width="1.2" stroke-linecap="butt"/><line x1="311.54" y1="327.6" x2="311.54" y2="333.6" stroke="#5a3414" stroke-width="1.2" stroke-linecap="butt"/><line x1="326.82" y1="291.1" x2="326.82" y2="297.1" stroke="#5a3414" stroke-width="1.2" stroke-linecap="butt"/><line x1="326.82" y1="327.6" x2="326.82" y2="333.6" stroke="#5a3414" stroke-width="1.2" stroke-linecap="butt"/><line x1="342.1" y1="291.1" x2="342.1" y2="297.1" stroke="#5a3414" stroke-width="1.2" stroke-linecap="butt"/><line x1="342.1" y1="327.6" x2="342.1" y2="333.6" stroke="#5a3414" stroke-width="1.2" stroke-linecap="butt"/><line x1="357.38" y1="291.1" x2="357.38" y2="297.1" stroke="#5a3414" stroke-width="1.2" stroke-linecap="butt"/><line x1="357.38" y1="327.6" x2="357.38" y2="333.6" stroke="#5a3414" stroke-width="1.2" stroke-linecap="butt"/><line x1="372.66" y1="291.1" x2="372.66" y2="297.1" stroke="#5a3414" stroke-width="1.2" stroke-linecap="butt"/><line x1="372.66" y1="327.6" x2="372.66" y2="333.6" stroke="#5a3414" stroke-width="1.2" stroke-linecap="butt"/><line x1="387.94" y1="291.1" x2="387.94" y2="297.1" stroke="#5a3414" stroke-width="1.2" stroke-linecap="butt"/><line x1="387.94" y1="327.6" x2="387.94" y2="333.6" stroke="#5a3414" stroke-width="1.2" stroke-linecap="butt"/><line x1="403.22" y1="291.1" x2="403.22" y2="297.1" stroke="#5a3414" stroke-width="1.2" stroke-linecap="butt"/><line x1="403.22" y1="327.6" x2="403.22" y2="333.6" stroke="#5a3414" stroke-width="1.2" stroke-linecap="butt"/><line x1="418.5" y1="291.1" x2="418.5" y2="297.1" stroke="#5a3414" stroke-width="1.2" stroke-linecap="butt"/><line x1="418.5" y1="327.6" x2="418.5" y2="333.6" stroke="#5a3414" stroke-width="1.2" stroke-linecap="butt"/><line x1="433.78" y1="291.1" x2="433.78" y2="297.1" stroke="#5a3414" stroke-width="1.2" stroke-linecap="butt"/><line x1="433.78" y1="327.6" x2="433.78" y2="333.6" stroke="#5a3414" stroke-width="1.2" stroke-linecap="butt"/><line x1="449.06" y1="291.1" x2="449.06" y2="297.1" stroke="#5a3414" stroke-width="1.2" stroke-linecap="butt"/><line x1="449.06" y1="327.6" x2="449.06" y2="333.6" stroke="#5a3414" stroke-width="1.2" stroke-linecap="butt"/><line x1="464.34" y1="291.1" x2="464.34" y2="297.1" stroke="#5a3414" stroke-width="1.2" stroke-linecap="butt"/><line x1="464.34" y1="327.6" x2="464.34" y2="333.6" stroke="#5a3414" stroke-width="1.2" stroke-linecap="butt"/><path d="M178.5,291.1 H470.5 A11.2,21.25 0 0 1 470.5,333.6 H178.5 A11.2,21.25 0 0 1 178.5,291.1 Z" fill="none" stroke="#1c1410" stroke-width="1.9"/>
<path d="M235,383.3 L244.4,388.68 L244.4,399.43 L235,404.8 L225.6,399.43 L225.6,388.68 Z" fill="#fabe8c" stroke="#1c1410" stroke-width="1.1" stroke-linejoin="round"/><path d="M235,383.3 L230,391.41 M235,383.3 L240,391.41 M230,391.41 L240,391.41 M225.6,388.68 L230,391.41 M225.6,399.43 L230,391.41 M244.4,388.68 L240,391.41 M244.4,399.43 L240,391.41 M230,391.41 L235,400.5 M240,391.41 L235,400.5 M225.6,399.43 L235,400.5 M244.4,399.43 L235,400.5 M235,404.8 L235,400.5" fill="none" stroke="#1c1410" stroke-width="1.1" stroke-linecap="round"/>
<path d="M324.8,385.15 L334.15,390.52 L334.15,401.27 L324.8,406.65 L315.45,401.27 L315.45,390.52 Z" fill="#fabe8c" stroke="#1c1410" stroke-width="1.1" stroke-linejoin="round"/><path d="M324.8,385.15 L319.83,393.26 M324.8,385.15 L329.77,393.26 M319.83,393.26 L329.77,393.26 M315.45,390.52 L319.83,393.26 M315.45,401.27 L319.83,393.26 M334.15,390.52 L329.77,393.26 M334.15,401.27 L329.77,393.26 M319.83,393.26 L324.8,402.35 M329.77,393.26 L324.8,402.35 M315.45,401.27 L324.8,402.35 M334.15,401.27 L324.8,402.35 M324.8,406.65 L324.8,402.35" fill="none" stroke="#1c1410" stroke-width="1.1" stroke-linecap="round"/>
<path d="M432.25,385.15 L441.6,390.52 L441.6,401.27 L432.25,406.65 L422.9,401.27 L422.9,390.52 Z" fill="#fabe8c" stroke="#1c1410" stroke-width="1.1" stroke-linejoin="round"/><path d="M432.25,385.15 L427.28,393.26 M432.25,385.15 L437.22,393.26 M427.28,393.26 L437.22,393.26 M422.9,390.52 L427.28,393.26 M422.9,401.27 L427.28,393.26 M441.6,390.52 L437.22,393.26 M441.6,401.27 L437.22,393.26 M427.28,393.26 L432.25,402.35 M437.22,393.26 L432.25,402.35 M422.9,401.27 L432.25,402.35 M441.6,401.27 L432.25,402.35 M432.25,406.65 L432.25,402.35" fill="none" stroke="#1c1410" stroke-width="1.1" stroke-linecap="round"/>
<path d="M551.5,385 L560.85,390.4 L560.85,401.2 L551.5,406.6 L542.15,401.2 L542.15,390.4 Z" fill="#fabe8c" stroke="#1c1410" stroke-width="1.1" stroke-linejoin="round"/><path d="M551.5,385 L546.53,393.14 M551.5,385 L556.47,393.14 M546.53,393.14 L556.47,393.14 M542.15,390.4 L546.53,393.14 M542.15,401.2 L546.53,393.14 M560.85,390.4 L556.47,393.14 M560.85,401.2 L556.47,393.14 M546.53,393.14 L551.5,402.28 M556.47,393.14 L551.5,402.28 M542.15,401.2 L551.5,402.28 M560.85,401.2 L551.5,402.28 M551.5,406.6 L551.5,402.28" fill="none" stroke="#1c1410" stroke-width="1.1" stroke-linecap="round"/>
<line x1="210.3" y1="445.2" x2="210.3" y2="439" stroke="#3a2a20" stroke-width="2.6" stroke-linecap="butt"/><line x1="210.3" y1="445.2" x2="210.3" y2="439" stroke="#fabe8c" stroke-width="1.5" stroke-linecap="butt"/><circle cx="210.3" cy="436.8" r="2.8" fill="#fabe8c" stroke="#3a2a20" stroke-width="0.7" /><line x1="216.77" y1="446.05" x2="218.38" y2="440.06" stroke="#3a2a20" stroke-width="2.6" stroke-linecap="butt"/><line x1="216.77" y1="446.05" x2="218.38" y2="440.06" stroke="#fabe8c" stroke-width="1.5" stroke-linecap="butt"/><circle cx="218.94" cy="437.94" r="2.8" fill="#fabe8c" stroke="#3a2a20" stroke-width="0.7" /><line x1="222.8" y1="448.55" x2="225.9" y2="443.18" stroke="#3a2a20" stroke-width="2.6" stroke-linecap="butt"/><line x1="222.8" y1="448.55" x2="225.9" y2="443.18" stroke="#fabe8c" stroke-width="1.5" stroke-linecap="butt"/><circle cx="227" cy="441.27" r="2.8" fill="#fabe8c" stroke="#3a2a20" stroke-width="0.7" /><line x1="227.98" y1="452.52" x2="232.36" y2="448.14" stroke="#3a2a20" stroke-width="2.6" stroke-linecap="butt"/><line x1="227.98" y1="452.52" x2="232.36" y2="448.14" stroke="#fabe8c" stroke-width="1.5" stroke-linecap="butt"/><circle cx="233.92" cy="446.58" r="2.8" fill="#fabe8c" stroke="#3a2a20" stroke-width="0.7" /><line x1="231.95" y1="457.7" x2="237.32" y2="454.6" stroke="#3a2a20" stroke-width="2.6" stroke-linecap="butt"/><line x1="231.95" y1="457.7" x2="237.32" y2="454.6" stroke="#fabe8c" stroke-width="1.5" stroke-linecap="butt"/><circle cx="239.23" cy="453.5" r="2.8" fill="#fabe8c" stroke="#3a2a20" stroke-width="0.7" /><line x1="234.45" y1="463.73" x2="240.44" y2="462.12" stroke="#3a2a20" stroke-width="2.6" stroke-linecap="butt"/><line x1="234.45" y1="463.73" x2="240.44" y2="462.12" stroke="#fabe8c" stroke-width="1.5" stroke-linecap="butt"/><circle cx="242.56" cy="461.56" r="2.8" fill="#fabe8c" stroke="#3a2a20" stroke-width="0.7" /><line x1="235.3" y1="470.2" x2="241.5" y2="470.2" stroke="#3a2a20" stroke-width="2.6" stroke-linecap="butt"/><line x1="235.3" y1="470.2" x2="241.5" y2="470.2" stroke="#fabe8c" stroke-width="1.5" stroke-linecap="butt"/><circle cx="243.7" cy="470.2" r="2.8" fill="#fabe8c" stroke="#3a2a20" stroke-width="0.7" /><line x1="234.45" y1="476.67" x2="240.44" y2="478.28" stroke="#3a2a20" stroke-width="2.6" stroke-linecap="butt"/><line x1="234.45" y1="476.67" x2="240.44" y2="478.28" stroke="#fabe8c" stroke-width="1.5" stroke-linecap="butt"/><circle cx="242.56" cy="478.84" r="2.8" fill="#fabe8c" stroke="#3a2a20" stroke-width="0.7" /><line x1="231.95" y1="482.7" x2="237.32" y2="485.8" stroke="#3a2a20" stroke-width="2.6" stroke-linecap="butt"/><line x1="231.95" y1="482.7" x2="237.32" y2="485.8" stroke="#fabe8c" stroke-width="1.5" stroke-linecap="butt"/><circle cx="239.23" cy="486.9" r="2.8" fill="#fabe8c" stroke="#3a2a20" stroke-width="0.7" /><line x1="227.98" y1="487.88" x2="232.36" y2="492.26" stroke="#3a2a20" stroke-width="2.6" stroke-linecap="butt"/><line x1="227.98" y1="487.88" x2="232.36" y2="492.26" stroke="#fabe8c" stroke-width="1.5" stroke-linecap="butt"/><circle cx="233.92" cy="493.82" r="2.8" fill="#fabe8c" stroke="#3a2a20" stroke-width="0.7" /><line x1="222.8" y1="491.85" x2="225.9" y2="497.22" stroke="#3a2a20" stroke-width="2.6" stroke-linecap="butt"/><line x1="222.8" y1="491.85" x2="225.9" y2="497.22" stroke="#fabe8c" stroke-width="1.5" stroke-linecap="butt"/><circle cx="227" cy="499.13" r="2.8" fill="#fabe8c" stroke="#3a2a20" stroke-width="0.7" /><line x1="216.77" y1="494.35" x2="218.38" y2="500.34" stroke="#3a2a20" stroke-width="2.6" stroke-linecap="butt"/><line x1="216.77" y1="494.35" x2="218.38" y2="500.34" stroke="#fabe8c" stroke-width="1.5" stroke-linecap="butt"/><circle cx="218.94" cy="502.46" r="2.8" fill="#fabe8c" stroke="#3a2a20" stroke-width="0.7" /><line x1="210.3" y1="495.2" x2="210.3" y2="501.4" stroke="#3a2a20" stroke-width="2.6" stroke-linecap="butt"/><line x1="210.3" y1="495.2" x2="210.3" y2="501.4" stroke="#fabe8c" stroke-width="1.5" stroke-linecap="butt"/><circle cx="210.3" cy="503.6" r="2.8" fill="#fabe8c" stroke="#3a2a20" stroke-width="0.7" /><line x1="203.83" y1="494.35" x2="202.22" y2="500.34" stroke="#3a2a20" stroke-width="2.6" stroke-linecap="butt"/><line x1="203.83" y1="494.35" x2="202.22" y2="500.34" stroke="#fabe8c" stroke-width="1.5" stroke-linecap="butt"/><circle cx="201.66" cy="502.46" r="2.8" fill="#fabe8c" stroke="#3a2a20" stroke-width="0.7" /><line x1="197.8" y1="491.85" x2="194.7" y2="497.22" stroke="#3a2a20" stroke-width="2.6" stroke-linecap="butt"/><line x1="197.8" y1="491.85" x2="194.7" y2="497.22" stroke="#fabe8c" stroke-width="1.5" stroke-linecap="butt"/><circle cx="193.6" cy="499.13" r="2.8" fill="#fabe8c" stroke="#3a2a20" stroke-width="0.7" /><line x1="192.62" y1="487.88" x2="188.24" y2="492.26" stroke="#3a2a20" stroke-width="2.6" stroke-linecap="butt"/><line x1="192.62" y1="487.88" x2="188.24" y2="492.26" stroke="#fabe8c" stroke-width="1.5" stroke-linecap="butt"/><circle cx="186.68" cy="493.82" r="2.8" fill="#fabe8c" stroke="#3a2a20" stroke-width="0.7" /><line x1="188.65" y1="482.7" x2="183.28" y2="485.8" stroke="#3a2a20" stroke-width="2.6" stroke-linecap="butt"/><line x1="188.65" y1="482.7" x2="183.28" y2="485.8" stroke="#fabe8c" stroke-width="1.5" stroke-linecap="butt"/><circle cx="181.37" cy="486.9" r="2.8" fill="#fabe8c" stroke="#3a2a20" stroke-width="0.7" /><line x1="186.15" y1="476.67" x2="180.16" y2="478.28" stroke="#3a2a20" stroke-width="2.6" stroke-linecap="butt"/><line x1="186.15" y1="476.67" x2="180.16" y2="478.28" stroke="#fabe8c" stroke-width="1.5" stroke-linecap="butt"/><circle cx="178.04" cy="478.84" r="2.8" fill="#fabe8c" stroke="#3a2a20" stroke-width="0.7" /><line x1="185.3" y1="470.2" x2="179.1" y2="470.2" stroke="#3a2a20" stroke-width="2.6" stroke-linecap="butt"/><line x1="185.3" y1="470.2" x2="179.1" y2="470.2" stroke="#fabe8c" stroke-width="1.5" stroke-linecap="butt"/><circle cx="176.9" cy="470.2" r="2.8" fill="#fabe8c" stroke="#3a2a20" stroke-width="0.7" /><line x1="186.15" y1="463.73" x2="180.16" y2="462.12" stroke="#3a2a20" stroke-width="2.6" stroke-linecap="butt"/><line x1="186.15" y1="463.73" x2="180.16" y2="462.12" stroke="#fabe8c" stroke-width="1.5" stroke-linecap="butt"/><circle cx="178.04" cy="461.56" r="2.8" fill="#fabe8c" stroke="#3a2a20" stroke-width="0.7" /><line x1="188.65" y1="457.7" x2="183.28" y2="454.6" stroke="#3a2a20" stroke-width="2.6" stroke-linecap="butt"/><line x1="188.65" y1="457.7" x2="183.28" y2="454.6" stroke="#fabe8c" stroke-width="1.5" stroke-linecap="butt"/><circle cx="181.37" cy="453.5" r="2.8" fill="#fabe8c" stroke="#3a2a20" stroke-width="0.7" /><line x1="192.62" y1="452.52" x2="188.24" y2="448.14" stroke="#3a2a20" stroke-width="2.6" stroke-linecap="butt"/><line x1="192.62" y1="452.52" x2="188.24" y2="448.14" stroke="#fabe8c" stroke-width="1.5" stroke-linecap="butt"/><circle cx="186.68" cy="446.58" r="2.8" fill="#fabe8c" stroke="#3a2a20" stroke-width="0.7" /><line x1="197.8" y1="448.55" x2="194.7" y2="443.18" stroke="#3a2a20" stroke-width="2.6" stroke-linecap="butt"/><line x1="197.8" y1="448.55" x2="194.7" y2="443.18" stroke="#fabe8c" stroke-width="1.5" stroke-linecap="butt"/><circle cx="193.6" cy="441.27" r="2.8" fill="#fabe8c" stroke="#3a2a20" stroke-width="0.7" /><line x1="203.83" y1="446.05" x2="202.22" y2="440.06" stroke="#3a2a20" stroke-width="2.6" stroke-linecap="butt"/><line x1="203.83" y1="446.05" x2="202.22" y2="440.06" stroke="#fabe8c" stroke-width="1.5" stroke-linecap="butt"/><circle cx="201.66" cy="437.94" r="2.8" fill="#fabe8c" stroke="#3a2a20" stroke-width="0.7" /><circle cx="210.3" cy="470.2" r="24" fill="none" stroke="#3a2020" stroke-width="3.5" /><circle cx="210.3" cy="470.2" r="24" fill="none" stroke="#d64a5a" stroke-width="2.5" stroke-dasharray="2.83 0.31" stroke-dashoffset="2.98"/><line x1="210.3" y1="448.2" x2="210.3" y2="444" stroke="#3a2a20" stroke-width="2.1" stroke-linecap="butt"/><line x1="210.3" y1="448.2" x2="210.3" y2="443.6" stroke="#fabe8c" stroke-width="1.1" stroke-linecap="butt"/><line x1="215.99" y1="448.95" x2="217.08" y2="444.89" stroke="#3a2a20" stroke-width="2.1" stroke-linecap="butt"/><line x1="215.99" y1="448.95" x2="217.18" y2="444.51" stroke="#fabe8c" stroke-width="1.1" stroke-linecap="butt"/><line x1="221.3" y1="451.15" x2="223.4" y2="447.51" stroke="#3a2a20" stroke-width="2.1" stroke-linecap="butt"/><line x1="221.3" y1="451.15" x2="223.6" y2="447.16" stroke="#fabe8c" stroke-width="1.1" stroke-linecap="butt"/><line x1="225.86" y1="454.64" x2="228.83" y2="451.67" stroke="#3a2a20" stroke-width="2.1" stroke-linecap="butt"/><line x1="225.86" y1="454.64" x2="229.11" y2="451.39" stroke="#fabe8c" stroke-width="1.1" stroke-linecap="butt"/><line x1="229.35" y1="459.2" x2="232.99" y2="457.1" stroke="#3a2a20" stroke-width="2.1" stroke-linecap="butt"/><line x1="229.35" y1="459.2" x2="233.34" y2="456.9" stroke="#fabe8c" stroke-width="1.1" stroke-linecap="butt"/><line x1="231.55" y1="464.51" x2="235.61" y2="463.42" stroke="#3a2a20" stroke-width="2.1" stroke-linecap="butt"/><line x1="231.55" y1="464.51" x2="235.99" y2="463.32" stroke="#fabe8c" stroke-width="1.1" stroke-linecap="butt"/><line x1="232.3" y1="470.2" x2="236.5" y2="470.2" stroke="#3a2a20" stroke-width="2.1" stroke-linecap="butt"/><line x1="232.3" y1="470.2" x2="236.9" y2="470.2" stroke="#fabe8c" stroke-width="1.1" stroke-linecap="butt"/><line x1="231.55" y1="475.89" x2="235.61" y2="476.98" stroke="#3a2a20" stroke-width="2.1" stroke-linecap="butt"/><line x1="231.55" y1="475.89" x2="235.99" y2="477.08" stroke="#fabe8c" stroke-width="1.1" stroke-linecap="butt"/><line x1="229.35" y1="481.2" x2="232.99" y2="483.3" stroke="#3a2a20" stroke-width="2.1" stroke-linecap="butt"/><line x1="229.35" y1="481.2" x2="233.34" y2="483.5" stroke="#fabe8c" stroke-width="1.1" stroke-linecap="butt"/><line x1="225.86" y1="485.76" x2="228.83" y2="488.73" stroke="#3a2a20" stroke-width="2.1" stroke-linecap="butt"/><line x1="225.86" y1="485.76" x2="229.11" y2="489.01" stroke="#fabe8c" stroke-width="1.1" stroke-linecap="butt"/><line x1="221.3" y1="489.25" x2="223.4" y2="492.89" stroke="#3a2a20" stroke-width="2.1" stroke-linecap="butt"/><line x1="221.3" y1="489.25" x2="223.6" y2="493.24" stroke="#fabe8c" stroke-width="1.1" stroke-linecap="butt"/><line x1="215.99" y1="491.45" x2="217.08" y2="495.51" stroke="#3a2a20" stroke-width="2.1" stroke-linecap="butt"/><line x1="215.99" y1="491.45" x2="217.18" y2="495.89" stroke="#fabe8c" stroke-width="1.1" stroke-linecap="butt"/><line x1="210.3" y1="492.2" x2="210.3" y2="496.4" stroke="#3a2a20" stroke-width="2.1" stroke-linecap="butt"/><line x1="210.3" y1="492.2" x2="210.3" y2="496.8" stroke="#fabe8c" stroke-width="1.1" stroke-linecap="butt"/><line x1="204.61" y1="491.45" x2="203.52" y2="495.51" stroke="#3a2a20" stroke-width="2.1" stroke-linecap="butt"/><line x1="204.61" y1="491.45" x2="203.42" y2="495.89" stroke="#fabe8c" stroke-width="1.1" stroke-linecap="butt"/><line x1="199.3" y1="489.25" x2="197.2" y2="492.89" stroke="#3a2a20" stroke-width="2.1" stroke-linecap="butt"/><line x1="199.3" y1="489.25" x2="197" y2="493.24" stroke="#fabe8c" stroke-width="1.1" stroke-linecap="butt"/><line x1="194.74" y1="485.76" x2="191.77" y2="488.73" stroke="#3a2a20" stroke-width="2.1" stroke-linecap="butt"/><line x1="194.74" y1="485.76" x2="191.49" y2="489.01" stroke="#fabe8c" stroke-width="1.1" stroke-linecap="butt"/><line x1="191.25" y1="481.2" x2="187.61" y2="483.3" stroke="#3a2a20" stroke-width="2.1" stroke-linecap="butt"/><line x1="191.25" y1="481.2" x2="187.26" y2="483.5" stroke="#fabe8c" stroke-width="1.1" stroke-linecap="butt"/><line x1="189.05" y1="475.89" x2="184.99" y2="476.98" stroke="#3a2a20" stroke-width="2.1" stroke-linecap="butt"/><line x1="189.05" y1="475.89" x2="184.61" y2="477.08" stroke="#fabe8c" stroke-width="1.1" stroke-linecap="butt"/><line x1="188.3" y1="470.2" x2="184.1" y2="470.2" stroke="#3a2a20" stroke-width="2.1" stroke-linecap="butt"/><line x1="188.3" y1="470.2" x2="183.7" y2="470.2" stroke="#fabe8c" stroke-width="1.1" stroke-linecap="butt"/><line x1="189.05" y1="464.51" x2="184.99" y2="463.42" stroke="#3a2a20" stroke-width="2.1" stroke-linecap="butt"/><line x1="189.05" y1="464.51" x2="184.61" y2="463.32" stroke="#fabe8c" stroke-width="1.1" stroke-linecap="butt"/><line x1="191.25" y1="459.2" x2="187.61" y2="457.1" stroke="#3a2a20" stroke-width="2.1" stroke-linecap="butt"/><line x1="191.25" y1="459.2" x2="187.26" y2="456.9" stroke="#fabe8c" stroke-width="1.1" stroke-linecap="butt"/><line x1="194.74" y1="454.64" x2="191.77" y2="451.67" stroke="#3a2a20" stroke-width="2.1" stroke-linecap="butt"/><line x1="194.74" y1="454.64" x2="191.49" y2="451.39" stroke="#fabe8c" stroke-width="1.1" stroke-linecap="butt"/><line x1="199.3" y1="451.15" x2="197.2" y2="447.51" stroke="#3a2a20" stroke-width="2.1" stroke-linecap="butt"/><line x1="199.3" y1="451.15" x2="197" y2="447.16" stroke="#fabe8c" stroke-width="1.1" stroke-linecap="butt"/><line x1="204.61" y1="448.95" x2="203.52" y2="444.89" stroke="#3a2a20" stroke-width="2.1" stroke-linecap="butt"/><line x1="204.61" y1="448.95" x2="203.42" y2="444.51" stroke="#fabe8c" stroke-width="1.1" stroke-linecap="butt"/><circle cx="210.3" cy="470.2" r="22.3" fill="#fabe8c" stroke="#3a2a20" stroke-width="0.7" /><path d="M220.4,457.4 C216.5,454.6 206,453.2 202,455 C199,456.8 200.5,460.6 206.8,462.9 C212,464.6 219.5,465 222,467 C224.2,469.6 220.5,471.8 216.2,471.4 C210.5,470.8 205,468.6 199.5,468.6 C195.2,468.8 194.4,471.8 196.8,473.8 C199.5,475.8 211,475.6 217.8,476.4 C222.8,477.2 225.4,480.2 223.4,482.6 C221,484.6 214,484 209.4,482.8 C204.6,481.4 200.6,479.6 198.1,477.6" fill="none" stroke="#621886" stroke-width="2.5" stroke-linecap="round"/>
<g transform="translate(327 473.5) rotate(-2.5)"><path d="M-2.0,-22.6 L-1.5,-30 L-3.0,-33 L-1.1,-31.8 L0,-33.2 L1.1,-31.8 L3.0,-33 L1.5,-30 L2.0,-22.6 Z" fill="#ef7c6c" stroke="#da5e4e" stroke-width="0.55" stroke-linejoin="round"/><path d="M0,-23.5 V-31.2 M-1.3,-30.6 L-2.1,-32.2 M1.3,-30.6 L2.1,-32.2" stroke="#fbe2da" stroke-width="0.8"/></g><circle cx="330.79" cy="448.89" r="1.85" fill="#5a1478" stroke="none" stroke-width="1" /><g transform="translate(327 473.5) rotate(20)"><path d="M-2.0,-22.6 L-1.5,-30 L-3.0,-33 L-1.1,-31.8 L0,-33.2 L1.1,-31.8 L3.0,-33 L1.5,-30 L2.0,-22.6 Z" fill="#ef7c6c" stroke="#da5e4e" stroke-width="0.55" stroke-linejoin="round"/><path d="M0,-23.5 V-31.2 M-1.3,-30.6 L-2.1,-32.2 M1.3,-30.6 L2.1,-32.2" stroke="#fbe2da" stroke-width="0.8"/></g><circle cx="339.92" cy="452.21" r="1.85" fill="#5a1478" stroke="none" stroke-width="1" /><g transform="translate(327 473.5) rotate(42.5)"><path d="M-2.0,-22.6 L-1.5,-30 L-3.0,-33 L-1.1,-31.8 L0,-33.2 L1.1,-31.8 L3.0,-33 L1.5,-30 L2.0,-22.6 Z" fill="#ef7c6c" stroke="#da5e4e" stroke-width="0.55" stroke-linejoin="round"/><path d="M0,-23.5 V-31.2 M-1.3,-30.6 L-2.1,-32.2 M1.3,-30.6 L2.1,-32.2" stroke="#fbe2da" stroke-width="0.8"/></g><circle cx="347.08" cy="458.78" r="1.85" fill="#5a1478" stroke="none" stroke-width="1" /><g transform="translate(327 473.5) rotate(65)"><path d="M-2.0,-22.6 L-1.5,-30 L-3.0,-33 L-1.1,-31.8 L0,-33.2 L1.1,-31.8 L3.0,-33 L1.5,-30 L2.0,-22.6 Z" fill="#ef7c6c" stroke="#da5e4e" stroke-width="0.55" stroke-linejoin="round"/><path d="M0,-23.5 V-31.2 M-1.3,-30.6 L-2.1,-32.2 M1.3,-30.6 L2.1,-32.2" stroke="#fbe2da" stroke-width="0.8"/></g><circle cx="351.19" cy="467.58" r="1.85" fill="#5a1478" stroke="none" stroke-width="1" /><g transform="translate(327 473.5) rotate(87.5)"><path d="M-2.0,-22.6 L-1.5,-30 L-3.0,-33 L-1.1,-31.8 L0,-33.2 L1.1,-31.8 L3.0,-33 L1.5,-30 L2.0,-22.6 Z" fill="#ef7c6c" stroke="#da5e4e" stroke-width="0.55" stroke-linejoin="round"/><path d="M0,-23.5 V-31.2 M-1.3,-30.6 L-2.1,-32.2 M1.3,-30.6 L2.1,-32.2" stroke="#fbe2da" stroke-width="0.8"/></g><circle cx="351.61" cy="477.29" r="1.85" fill="#5a1478" stroke="none" stroke-width="1" /><g transform="translate(327 473.5) rotate(110)"><path d="M-2.0,-22.6 L-1.5,-30 L-3.0,-33 L-1.1,-31.8 L0,-33.2 L1.1,-31.8 L3.0,-33 L1.5,-30 L2.0,-22.6 Z" fill="#ef7c6c" stroke="#da5e4e" stroke-width="0.55" stroke-linejoin="round"/><path d="M0,-23.5 V-31.2 M-1.3,-30.6 L-2.1,-32.2 M1.3,-30.6 L2.1,-32.2" stroke="#fbe2da" stroke-width="0.8"/></g><circle cx="348.29" cy="486.42" r="1.85" fill="#5a1478" stroke="none" stroke-width="1" /><g transform="translate(327 473.5) rotate(132.5)"><path d="M-2.0,-22.6 L-1.5,-30 L-3.0,-33 L-1.1,-31.8 L0,-33.2 L1.1,-31.8 L3.0,-33 L1.5,-30 L2.0,-22.6 Z" fill="#ef7c6c" stroke="#da5e4e" stroke-width="0.55" stroke-linejoin="round"/><path d="M0,-23.5 V-31.2 M-1.3,-30.6 L-2.1,-32.2 M1.3,-30.6 L2.1,-32.2" stroke="#fbe2da" stroke-width="0.8"/></g><circle cx="341.72" cy="493.58" r="1.85" fill="#5a1478" stroke="none" stroke-width="1" /><g transform="translate(327 473.5) rotate(155)"><path d="M-2.0,-22.6 L-1.5,-30 L-3.0,-33 L-1.1,-31.8 L0,-33.2 L1.1,-31.8 L3.0,-33 L1.5,-30 L2.0,-22.6 Z" fill="#ef7c6c" stroke="#da5e4e" stroke-width="0.55" stroke-linejoin="round"/><path d="M0,-23.5 V-31.2 M-1.3,-30.6 L-2.1,-32.2 M1.3,-30.6 L2.1,-32.2" stroke="#fbe2da" stroke-width="0.8"/></g><circle cx="332.92" cy="497.69" r="1.85" fill="#5a1478" stroke="none" stroke-width="1" /><g transform="translate(327 473.5) rotate(177.5)"><path d="M-2.0,-22.6 L-1.5,-30 L-3.0,-33 L-1.1,-31.8 L0,-33.2 L1.1,-31.8 L3.0,-33 L1.5,-30 L2.0,-22.6 Z" fill="#ef7c6c" stroke="#da5e4e" stroke-width="0.55" stroke-linejoin="round"/><path d="M0,-23.5 V-31.2 M-1.3,-30.6 L-2.1,-32.2 M1.3,-30.6 L2.1,-32.2" stroke="#fbe2da" stroke-width="0.8"/></g><circle cx="323.21" cy="498.11" r="1.85" fill="#5a1478" stroke="none" stroke-width="1" /><g transform="translate(327 473.5) rotate(200)"><path d="M-2.0,-22.6 L-1.5,-30 L-3.0,-33 L-1.1,-31.8 L0,-33.2 L1.1,-31.8 L3.0,-33 L1.5,-30 L2.0,-22.6 Z" fill="#ef7c6c" stroke="#da5e4e" stroke-width="0.55" stroke-linejoin="round"/><path d="M0,-23.5 V-31.2 M-1.3,-30.6 L-2.1,-32.2 M1.3,-30.6 L2.1,-32.2" stroke="#fbe2da" stroke-width="0.8"/></g><circle cx="314.08" cy="494.79" r="1.85" fill="#5a1478" stroke="none" stroke-width="1" /><g transform="translate(327 473.5) rotate(222.5)"><path d="M-2.0,-22.6 L-1.5,-30 L-3.0,-33 L-1.1,-31.8 L0,-33.2 L1.1,-31.8 L3.0,-33 L1.5,-30 L2.0,-22.6 Z" fill="#ef7c6c" stroke="#da5e4e" stroke-width="0.55" stroke-linejoin="round"/><path d="M0,-23.5 V-31.2 M-1.3,-30.6 L-2.1,-32.2 M1.3,-30.6 L2.1,-32.2" stroke="#fbe2da" stroke-width="0.8"/></g><circle cx="306.92" cy="488.22" r="1.85" fill="#5a1478" stroke="none" stroke-width="1" /><g transform="translate(327 473.5) rotate(245)"><path d="M-2.0,-22.6 L-1.5,-30 L-3.0,-33 L-1.1,-31.8 L0,-33.2 L1.1,-31.8 L3.0,-33 L1.5,-30 L2.0,-22.6 Z" fill="#ef7c6c" stroke="#da5e4e" stroke-width="0.55" stroke-linejoin="round"/><path d="M0,-23.5 V-31.2 M-1.3,-30.6 L-2.1,-32.2 M1.3,-30.6 L2.1,-32.2" stroke="#fbe2da" stroke-width="0.8"/></g><circle cx="302.81" cy="479.42" r="1.85" fill="#5a1478" stroke="none" stroke-width="1" /><g transform="translate(327 473.5) rotate(267.5)"><path d="M-2.0,-22.6 L-1.5,-30 L-3.0,-33 L-1.1,-31.8 L0,-33.2 L1.1,-31.8 L3.0,-33 L1.5,-30 L2.0,-22.6 Z" fill="#ef7c6c" stroke="#da5e4e" stroke-width="0.55" stroke-linejoin="round"/><path d="M0,-23.5 V-31.2 M-1.3,-30.6 L-2.1,-32.2 M1.3,-30.6 L2.1,-32.2" stroke="#fbe2da" stroke-width="0.8"/></g><circle cx="302.39" cy="469.71" r="1.85" fill="#5a1478" stroke="none" stroke-width="1" /><g transform="translate(327 473.5) rotate(290)"><path d="M-2.0,-22.6 L-1.5,-30 L-3.0,-33 L-1.1,-31.8 L0,-33.2 L1.1,-31.8 L3.0,-33 L1.5,-30 L2.0,-22.6 Z" fill="#ef7c6c" stroke="#da5e4e" stroke-width="0.55" stroke-linejoin="round"/><path d="M0,-23.5 V-31.2 M-1.3,-30.6 L-2.1,-32.2 M1.3,-30.6 L2.1,-32.2" stroke="#fbe2da" stroke-width="0.8"/></g><circle cx="305.71" cy="460.58" r="1.85" fill="#5a1478" stroke="none" stroke-width="1" /><g transform="translate(327 473.5) rotate(312.5)"><path d="M-2.0,-22.6 L-1.5,-30 L-3.0,-33 L-1.1,-31.8 L0,-33.2 L1.1,-31.8 L3.0,-33 L1.5,-30 L2.0,-22.6 Z" fill="#ef7c6c" stroke="#da5e4e" stroke-width="0.55" stroke-linejoin="round"/><path d="M0,-23.5 V-31.2 M-1.3,-30.6 L-2.1,-32.2 M1.3,-30.6 L2.1,-32.2" stroke="#fbe2da" stroke-width="0.8"/></g><circle cx="312.28" cy="453.42" r="1.85" fill="#5a1478" stroke="none" stroke-width="1" /><g transform="translate(327 473.5) rotate(335)"><path d="M-2.0,-22.6 L-1.5,-30 L-3.0,-33 L-1.1,-31.8 L0,-33.2 L1.1,-31.8 L3.0,-33 L1.5,-30 L2.0,-22.6 Z" fill="#ef7c6c" stroke="#da5e4e" stroke-width="0.55" stroke-linejoin="round"/><path d="M0,-23.5 V-31.2 M-1.3,-30.6 L-2.1,-32.2 M1.3,-30.6 L2.1,-32.2" stroke="#fbe2da" stroke-width="0.8"/></g><circle cx="321.08" cy="449.31" r="1.85" fill="#5a1478" stroke="none" stroke-width="1" /><circle cx="327" cy="473.5" r="18.2" fill="none" stroke="#5e1a7e" stroke-width="2.4" /><circle cx="345.2" cy="473.5" r="2.6" fill="#5e1a7e" stroke="none" stroke-width="1" /><circle cx="344.8" cy="477.28" r="2.6" fill="#5e1a7e" stroke="none" stroke-width="1" /><circle cx="343.63" cy="480.9" r="2.6" fill="#5e1a7e" stroke="none" stroke-width="1" /><circle cx="341.72" cy="484.2" r="2.6" fill="#5e1a7e" stroke="none" stroke-width="1" /><circle cx="339.18" cy="487.03" r="2.6" fill="#5e1a7e" stroke="none" stroke-width="1" /><circle cx="336.1" cy="489.26" r="2.6" fill="#5e1a7e" stroke="none" stroke-width="1" /><circle cx="332.62" cy="490.81" r="2.6" fill="#5e1a7e" stroke="none" stroke-width="1" /><circle cx="328.9" cy="491.6" r="2.6" fill="#5e1a7e" stroke="none" stroke-width="1" /><circle cx="325.1" cy="491.6" r="2.6" fill="#5e1a7e" stroke="none" stroke-width="1" /><circle cx="321.38" cy="490.81" r="2.6" fill="#5e1a7e" stroke="none" stroke-width="1" /><circle cx="317.9" cy="489.26" r="2.6" fill="#5e1a7e" stroke="none" stroke-width="1" /><circle cx="314.82" cy="487.03" r="2.6" fill="#5e1a7e" stroke="none" stroke-width="1" /><circle cx="312.28" cy="484.2" r="2.6" fill="#5e1a7e" stroke="none" stroke-width="1" /><circle cx="310.37" cy="480.9" r="2.6" fill="#5e1a7e" stroke="none" stroke-width="1" /><circle cx="309.2" cy="477.28" r="2.6" fill="#5e1a7e" stroke="none" stroke-width="1" /><circle cx="308.8" cy="473.5" r="2.6" fill="#5e1a7e" stroke="none" stroke-width="1" /><circle cx="309.2" cy="469.72" r="2.6" fill="#5e1a7e" stroke="none" stroke-width="1" /><circle cx="310.37" cy="466.1" r="2.6" fill="#5e1a7e" stroke="none" stroke-width="1" /><circle cx="312.28" cy="462.8" r="2.6" fill="#5e1a7e" stroke="none" stroke-width="1" /><circle cx="314.82" cy="459.97" r="2.6" fill="#5e1a7e" stroke="none" stroke-width="1" /><circle cx="317.9" cy="457.74" r="2.6" fill="#5e1a7e" stroke="none" stroke-width="1" /><circle cx="321.38" cy="456.19" r="2.6" fill="#5e1a7e" stroke="none" stroke-width="1" /><circle cx="325.1" cy="455.4" r="2.6" fill="#5e1a7e" stroke="none" stroke-width="1" /><circle cx="328.9" cy="455.4" r="2.6" fill="#5e1a7e" stroke="none" stroke-width="1" /><circle cx="332.62" cy="456.19" r="2.6" fill="#5e1a7e" stroke="none" stroke-width="1" /><circle cx="336.1" cy="457.74" r="2.6" fill="#5e1a7e" stroke="none" stroke-width="1" /><circle cx="339.18" cy="459.97" r="2.6" fill="#5e1a7e" stroke="none" stroke-width="1" /><circle cx="341.72" cy="462.8" r="2.6" fill="#5e1a7e" stroke="none" stroke-width="1" /><circle cx="343.63" cy="466.1" r="2.6" fill="#5e1a7e" stroke="none" stroke-width="1" /><circle cx="344.8" cy="469.72" r="2.6" fill="#5e1a7e" stroke="none" stroke-width="1" /><path d="M325.2,460.3 L324.9,460.33 L324.5,460.35 L324.02,460.38 L323.48,460.47 L322.9,460.67 L322.3,461 L321.65,461.52 L320.92,462.2 L320.15,462.99 L319.38,463.81 L318.65,464.6 L318,465.3 L317.39,465.92 L316.8,466.5 L316.24,467.06 L315.75,467.6 L315.36,468.11 L315.1,468.6 L314.96,469.1 L314.92,469.6 L314.98,470.07 L315.14,470.5 L315.41,470.85 L315.8,471.1 L316.38,471.2 L317.15,471.16 L318.03,471.04 L318.94,470.9 L319.79,470.8 L320.5,470.8 L321.12,470.89 L321.71,471.02 L322.26,471.19 L322.7,471.4 L322.99,471.64 L323.1,471.9 L323,472.21 L322.74,472.58 L322.33,472.98 L321.8,473.39 L321.18,473.77 L320.5,474.1 L319.66,474.37 L318.61,474.59 L317.48,474.78 L316.37,474.98 L315.41,475.21 L314.7,475.5 L314.25,475.86 L313.96,476.29 L313.81,476.74 L313.78,477.2 L313.85,477.63 L314,478 L314.26,478.33 L314.65,478.64 L315.14,478.93 L315.7,479.18 L316.29,479.37 L316.9,479.5 L317.59,479.51 L318.41,479.39 L319.27,479.21 L320.09,479.06 L320.76,479 L321.2,479.1 L321.39,479.39 L321.38,479.82 L321.23,480.34 L321,480.9 L320.74,481.47 L320.5,482 L320.22,482.5 L319.85,483.03 L319.44,483.55 L319.07,484.06 L318.8,484.55 L318.7,485 L318.76,485.43 L318.94,485.84 L319.21,486.24 L319.57,486.59 L320.01,486.88 L320.5,487.1 L321.11,487.26 L321.87,487.36 L322.7,487.41 L323.53,487.39 L324.29,487.29 L324.9,487.1 L325.37,486.8 L325.76,486.4 L326.07,485.92 L326.33,485.38 L326.53,484.8 L326.7,484.2 L326.78,483.53 L326.77,482.77 L326.7,481.96 L326.63,481.18 L326.62,480.47 L326.7,479.9 L326.87,479.45 L327.1,479.06 L327.38,478.74 L327.7,478.52 L328.07,478.4 L328.5,478.4 L328.99,478.55 L329.54,478.86 L330.14,479.27 L330.77,479.73 L331.43,480.19 L332.1,480.6 L332.8,481 L333.56,481.44 L334.34,481.89 L335.11,482.29 L335.84,482.61 L336.5,482.8 L337.12,482.86 L337.74,482.83 L338.31,482.72 L338.81,482.53 L339.18,482.29 L339.4,482 L339.45,481.64 L339.36,481.19 L339.16,480.68 L338.85,480.14 L338.46,479.61 L338,479.1 L337.36,478.6 L336.49,478.08 L335.53,477.56 L334.64,477.06 L333.95,476.6 L333.6,476.2 L333.66,475.89 L334.03,475.67 L334.59,475.48 L335.26,475.3 L335.93,475.09 L336.5,474.8 L337.01,474.45 L337.55,474.06 L338.09,473.64 L338.6,473.19 L339.04,472.71 L339.4,472.2 L339.67,471.64 L339.89,471.02 L340.04,470.37 L340.13,469.73 L340.15,469.13 L340.1,468.6 L339.94,468.11 L339.67,467.61 L339.33,467.16 L338.96,466.79 L338.61,466.52 L338.3,466.4 L338.03,466.45 L337.77,466.63 L337.51,466.93 L337.28,467.31 L337.07,467.74 L336.9,468.2 L336.81,468.73 L336.81,469.38 L336.84,470.07 L336.83,470.77 L336.74,471.39 L336.5,471.9 L336.09,472.31 L335.54,472.67 L334.91,472.97 L334.23,473.19 L333.54,473.3 L332.9,473.3 L332.25,473.16 L331.56,472.9 L330.87,472.53 L330.21,472.09 L329.64,471.61 L329.2,471.1 L328.88,470.53 L328.65,469.86 L328.51,469.15 L328.44,468.44 L328.44,467.77 L328.5,467.2 L328.63,466.72 L328.83,466.3 L329.11,465.92 L329.44,465.59 L329.84,465.28 L330.3,465 L330.89,464.77 L331.65,464.6 L332.46,464.46 L333.24,464.32 L333.89,464.15 L334.3,463.9 L334.49,463.55 L334.53,463.11 L334.43,462.63 L334.22,462.17 L333.9,461.78 L333.5,461.5 L332.96,461.38 L332.25,461.37 L331.44,461.42 L330.59,461.5 L329.75,461.54 L329,461.5 L328.28,461.36 L327.54,461.14 L326.82,460.9 L326.16,460.66 L325.61,460.44 L325.2,460.3 Z" fill="none" stroke="#6c1f8e" stroke-width="1.1" stroke-linejoin="miter" stroke-miterlimit="20"/>
<circle cx="435.4" cy="473.5" r="24.2" fill="none" stroke="#5a177e" stroke-width="2.7" /><circle cx="435.4" cy="473.5" r="21.9" fill="none" stroke="#3a1a1a" stroke-width="2.4" /><circle cx="435.4" cy="473.5" r="21.9" fill="none" stroke="#cc4452" stroke-width="1.45" /><circle cx="435.4" cy="473.5" r="20.7" fill="#ddeedc" stroke="none" stroke-width="1" /><path d="M435.4,456.6 L450,465.07 L450,482.03 L435.4,490.5 L420.8,482.03 L420.8,465.07 Z" fill="#fabe8c" stroke="#1c1410" stroke-width="1.1" stroke-linejoin="round"/><path d="M435.4,456.6 L427.63,469.38 M435.4,456.6 L443.17,469.38 M427.63,469.38 L443.17,469.38 M420.8,465.07 L427.63,469.38 M420.8,482.03 L427.63,469.38 M450,465.07 L443.17,469.38 M450,482.03 L443.17,469.38 M427.63,469.38 L435.4,483.72 M443.17,469.38 L435.4,483.72 M420.8,482.03 L435.4,483.72 M450,482.03 L435.4,483.72 M435.4,490.5 L435.4,483.72" fill="none" stroke="#1c1410" stroke-width="1.1" stroke-linecap="round"/>
<circle cx="549.5" cy="473.6" r="15" fill="none" stroke="#5a177e" stroke-width="2.75" /><circle cx="549.5" cy="473.6" r="13.1" fill="none" stroke="#2a1010" stroke-width="1.7" /><circle cx="549.5" cy="473.6" r="12.3" fill="#ddeedc" stroke="none" stroke-width="1" /><path d="M549.6,463.3 L558.6,468.43 L558.6,478.68 L549.6,483.8 L540.6,478.68 L540.6,468.43 Z" fill="#fabe8c" stroke="#1c1410" stroke-width="1.05" stroke-linejoin="round"/><path d="M549.6,463.3 L544.81,471.03 M549.6,463.3 L554.39,471.03 M544.81,471.03 L554.39,471.03 M540.6,468.43 L544.81,471.03 M540.6,478.68 L544.81,471.03 M558.6,468.43 L554.39,471.03 M558.6,478.68 L554.39,471.03 M544.81,471.03 L549.6,479.7 M554.39,471.03 L549.6,479.7 M540.6,478.68 L549.6,479.7 M558.6,478.68 L549.6,479.7 M549.6,483.8 L549.6,479.7" fill="none" stroke="#1c1410" stroke-width="1.05" stroke-linecap="round"/>
<path d="M28.5,499 V506.5 H90.1 V499 M43.9,501.6 V506.5 M59.6,501.6 V506.5 M75.2,501.6 V506.5" fill="none" stroke="#4a5258" stroke-width="1.3"/>
<text transform="translate(13.37 28) scale(1 1.08)" style="font-size:12.65px;font-weight:bold;stroke-width:0.3px">dsRNA</text>
<text transform="translate(134.37 29.1) scale(1 1.08)" style="font-size:12.67px;font-weight:bold;stroke-width:0.3px">ssRNA (–)</text>
<text transform="translate(519.86 29.1) scale(1 1.08)" style="font-size:12.77px;font-weight:bold;stroke-width:0.3px">ssRNA (RT)</text>
<text transform="translate(134.26 399.1) scale(1 1.08)" style="font-size:12.83px;font-weight:bold;stroke-width:0.3px">ssRNA (+)</text>
<text transform="translate(30.79 199.4) scale(1 1.12)" style="font-size:12.44px;font-style:italic">Reoviridae</text>
<text transform="translate(14.48 392) scale(1 1.12)" style="font-size:12.82px;font-style:italic">Picobirnaviridae</text>
<text transform="translate(181.87 131.6) scale(1 1.12)" style="font-size:12.53px;font-style:italic">Orthomyxoviridae</text>
<text transform="translate(358.08 131.8) scale(1 1.12)" style="font-size:12.73px;font-style:italic">Rhabdoviridae</text>
<text transform="translate(543.18 145) scale(1 1.12)" style="font-size:12.68px;font-style:italic">Retroviridae</text>
<text transform="translate(184.29 267.4) scale(1 1.12)" style="font-size:12.39px;font-style:italic">Paramyxoviridae</text>
<text transform="translate(316.98 249) scale(1 1.12)" style="font-size:12.83px;font-style:italic">Bornaviridae</text>
<text transform="translate(418.33 248.7) scale(1 1.12)" style="font-size:12.6px;font-style:italic">Arenaviridae</text>
<text transform="translate(529.88 287.4) scale(1 1.12)" style="font-size:12.66px;font-style:italic">Bunyaviridae</text>
<text transform="translate(297.09 361.9) scale(1 1.12)" style="font-size:12.29px;font-style:italic">Filoviridae</text>
<text transform="translate(200.78 426.3) scale(1 1.12)" style="font-size:12.93px;font-style:italic">Hepeviridae</text>
<text transform="translate(290.05 427.9) scale(1 1.12)" style="font-size:12.92px;font-style:italic">Caliciviridae</text>
<text transform="translate(400.52 427.3) scale(1 1.12)" style="font-size:12.38px;font-style:italic">Astroviridae</text>
<text transform="translate(512.78 426.8) scale(1 1.12)" style="font-size:12.75px;font-style:italic">Picornaviridae</text>
<text transform="translate(171.97 526.8) scale(1 1.12)" style="font-size:12.5px;font-style:italic">Coronaviridae</text>
<text transform="translate(294.02 526.8) scale(1 1.12)" style="font-size:12.47px;font-style:italic">Arteriviridae</text>
<text transform="translate(402.85 527) scale(1 1.12)" style="font-size:12.54px;font-style:italic">Togaviridae</text>
<text transform="translate(517.68 527) scale(1 1.12)" style="font-size:12.62px;font-style:italic">Flaviviridae</text>
<text transform="translate(39.57 522) scale(1 0.93)" style="font-size:12.37px;stroke-width:0px">100 nm</text>
</svg></body></html>
